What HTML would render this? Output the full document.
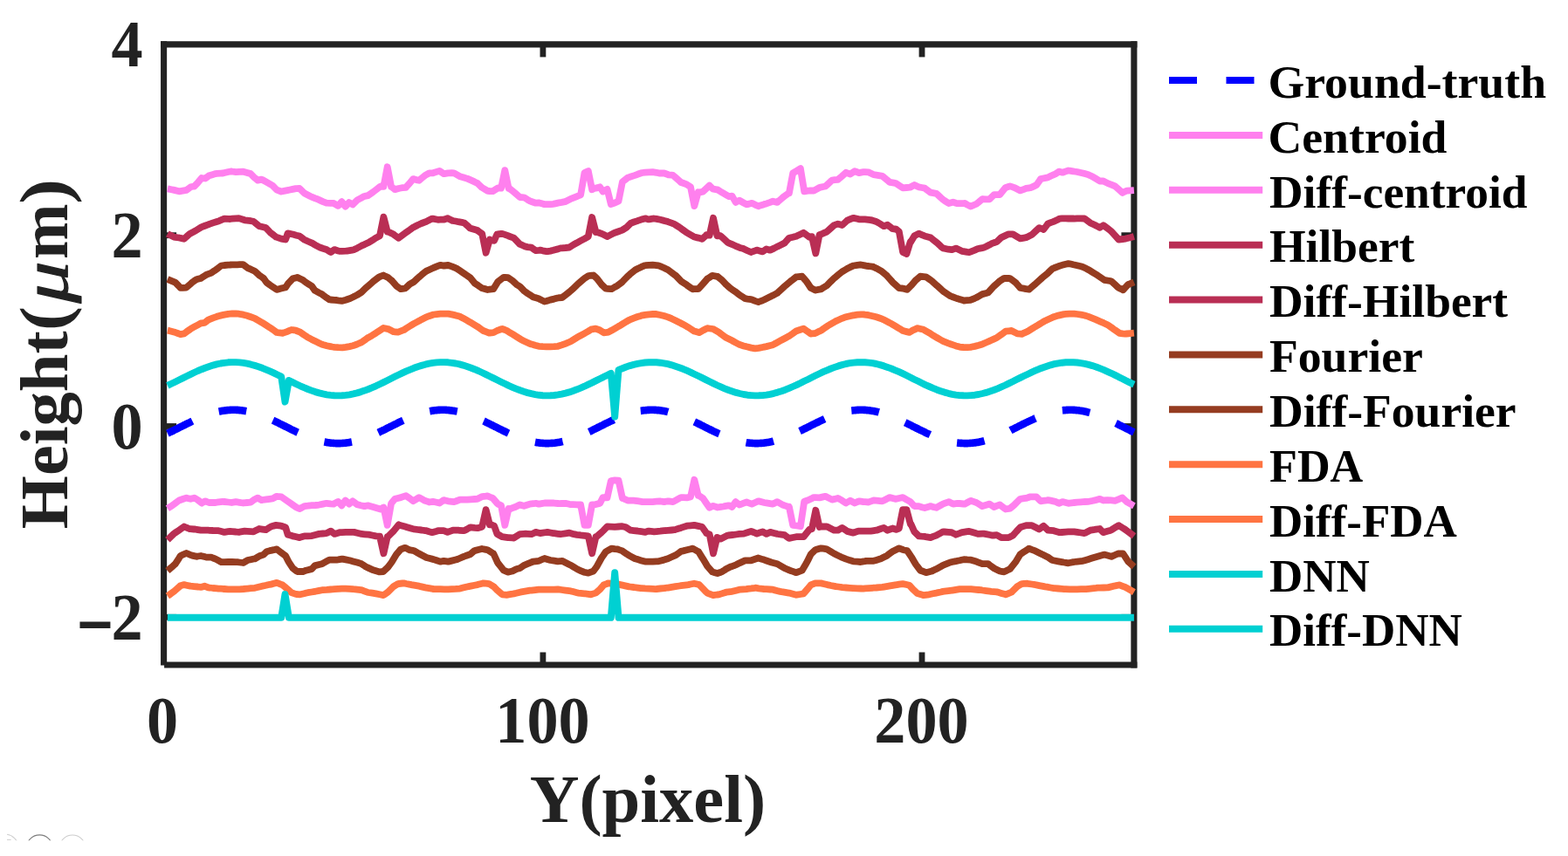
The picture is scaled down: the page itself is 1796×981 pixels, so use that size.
<!DOCTYPE html>
<html lang="en"><head><meta charset="utf-8"><title>Height profile comparison</title>
<style>html,body{margin:0;padding:0;background:#fff;}body{width:1796px;height:981px;overflow:hidden;}svg{display:block;font-family:"Liberation Serif","DejaVu Serif",serif;font-weight:bold;}</style></head><body>
<svg width="1796" height="981" viewBox="0 0 1796 981">
<rect width="1796" height="981" fill="#ffffff"/>
<defs><clipPath id="cl"><rect x="8" y="950" width="112" height="13.2"/></clipPath></defs>
<g clip-path="url(#cl)" fill="none" stroke-width="1.1"><circle cx="6" cy="971.2" r="15" stroke="#cfcfcf"/><line x1="8" y1="962.4" x2="12.6" y2="962.4" stroke="#d6d6d6"/><circle cx="45.3" cy="971.7" r="14.8" stroke="#7d7d7d"/><circle cx="83" cy="971.8" r="14.8" stroke="#cccccc"/></g>
<g stroke="#222222" stroke-width="7.1" fill="none">
<line x1="184.05" y1="50.9" x2="1302.45" y2="50.9"/>
<line x1="1298.9" y1="47.35" x2="1298.9" y2="765.55"/>
<line x1="188.10" y1="762.0" x2="1302.45" y2="762.0"/>
<line x1="187.6" y1="47.35" x2="187.6" y2="762.40"/>
</g>
<g stroke="#222222" stroke-width="6.8">
<line x1="621.9" y1="50.9" x2="621.9" y2="65.4"/>
<line x1="621.9" y1="762.0" x2="621.9" y2="747.5"/>
<line x1="1056.0" y1="50.9" x2="1056.0" y2="65.4"/>
<line x1="1056.0" y1="762.0" x2="1056.0" y2="747.5"/>
<line x1="187.6" y1="269.7" x2="202.1" y2="269.7"/>
<line x1="1298.9" y1="269.7" x2="1284.4" y2="269.7"/>
<line x1="187.6" y1="488.5" x2="202.1" y2="488.5"/>
<line x1="1298.9" y1="488.5" x2="1284.4" y2="488.5"/>
<line x1="187.6" y1="707.3" x2="202.1" y2="707.3"/>
<line x1="1298.9" y1="707.3" x2="1284.4" y2="707.3"/>
</g>
<g fill="none" stroke-linejoin="round" stroke-linecap="butt">
<path d="M191.9,496.6 L193.0,496.1 L194.1,495.6 L195.2,495.0 L196.3,494.5 L197.4,494.0 L198.5,493.5 L199.5,492.9 L200.6,492.4 L201.7,491.9 L202.8,491.3 L203.9,490.8 L205.0,490.2 L206.0,489.7 L207.1,489.2 L208.2,488.6 L209.3,488.1 L210.4,487.5 L211.5,487.0 L212.6,486.4 L213.6,485.9 L214.7,485.4 L215.8,484.8 L216.9,484.3 L218.0,483.8 L219.1,483.2 L220.2,482.7 L221.2,482.2 L222.3,481.7 L223.4,481.2 L224.5,480.7 L225.6,480.2 L226.7,479.7 L227.8,479.3 L228.8,478.8 L229.9,478.3 L231.0,477.9 L232.1,477.5 L233.2,477.0 L234.3,476.6 L235.4,476.2 L236.4,475.8 L237.5,475.4 L238.6,475.0 L239.7,474.7 L240.8,474.3 L241.9,474.0 L242.9,473.6 L244.0,473.3 L245.1,473.0 L246.2,472.7 L247.3,472.4 L248.4,472.1 L249.5,471.9 L250.5,471.6 L251.6,471.4 L252.7,471.2 L253.8,471.0 L254.9,470.8 L256.0,470.7 L257.1,470.5 L258.1,470.4 L259.2,470.2 L260.3,470.1 L261.4,470.0 L262.5,470.0 L263.6,469.9 L264.7,469.8 L265.7,469.8 L266.8,469.8 L267.9,469.8 L269.0,469.8 L270.1,469.8 L271.2,469.9 L272.2,469.9 L273.3,470.0 L274.4,470.1 L275.5,470.2 L276.6,470.3 L277.7,470.5 L278.8,470.6 L279.8,470.8 L280.9,471.0 L282.0,471.2 L283.1,471.4 L284.2,471.6 L285.3,471.8 L286.4,472.1 L287.4,472.4 L288.5,472.6 L289.6,472.9 L290.7,473.2 L291.8,473.6 L292.9,473.9 L294.0,474.2 L295.0,474.6 L296.1,474.9 L297.2,475.3 L298.3,475.7 L299.4,476.1 L300.5,476.5 L301.6,476.9 L302.6,477.4 L303.7,477.8 L304.8,478.3 L305.9,478.7 L307.0,479.2 L308.1,479.6 L309.1,480.1 L310.2,480.6 L311.3,481.1 L312.4,481.6 L313.5,482.1 L314.6,482.6 L315.7,483.1 L316.7,483.7 L317.8,484.2 L318.9,484.7 L320.0,485.3 L321.1,485.8 L322.2,486.3 L323.3,486.9 L324.3,487.4 L325.4,488.0 L326.5,488.5 L327.6,489.0 L328.7,489.6 L329.8,490.1 L330.9,490.7 L331.9,491.2 L333.0,491.8 L334.1,492.3 L335.2,492.8 L336.3,493.4 L337.4,493.9 L338.5,494.4 L339.5,494.9 L340.6,495.5 L341.7,496.0 L342.8,496.5 L343.9,497.0 L345.0,497.5 L346.0,497.9 L347.1,498.4 L348.2,498.9 L349.3,499.3 L350.4,499.8 L351.5,500.2 L352.6,500.7 L353.6,501.1 L354.7,501.5 L355.8,501.9 L356.9,502.3 L358.0,502.7 L359.1,503.1 L360.2,503.4 L361.2,503.8 L362.3,504.1 L363.4,504.5 L364.5,504.8 L365.6,505.1 L366.7,505.4 L367.8,505.6 L368.8,505.9 L369.9,506.1 L371.0,506.4 L372.1,506.6 L373.2,506.8 L374.3,507.0 L375.3,507.2 L376.4,507.3 L377.5,507.5 L378.6,507.6 L379.7,507.7 L380.8,507.8 L381.9,507.9 L382.9,508.0 L384.0,508.0 L385.1,508.1 L386.2,508.1 L387.3,508.1 L388.4,508.1 L389.5,508.1 L390.5,508.0 L391.6,508.0 L392.7,507.9 L393.8,507.8 L394.9,507.7 L396.0,507.6 L397.1,507.5 L398.1,507.3 L399.2,507.2 L400.3,507.0 L401.4,506.8 L402.5,506.6 L403.6,506.4 L404.7,506.1 L405.7,505.9 L406.8,505.6 L407.9,505.4 L409.0,505.1 L410.1,504.8 L411.2,504.5 L412.2,504.1 L413.3,503.8 L414.4,503.4 L415.5,503.1 L416.6,502.7 L417.7,502.3 L418.8,501.9 L419.8,501.5 L420.9,501.1 L422.0,500.7 L423.1,500.2 L424.2,499.8 L425.3,499.3 L426.4,498.9 L427.4,498.4 L428.5,497.9 L429.6,497.5 L430.7,497.0 L431.8,496.5 L432.9,496.0 L434.0,495.5 L435.0,494.9 L436.1,494.4 L437.2,493.9 L438.3,493.4 L439.4,492.8 L440.5,492.3 L441.5,491.8 L442.6,491.2 L443.7,490.7 L444.8,490.1 L445.9,489.6 L447.0,489.0 L448.1,488.5 L449.1,488.0 L450.2,487.4 L451.3,486.9 L452.4,486.3 L453.5,485.8 L454.6,485.3 L455.7,484.7 L456.7,484.2 L457.8,483.7 L458.9,483.1 L460.0,482.6 L461.1,482.1 L462.2,481.6 L463.3,481.1 L464.3,480.6 L465.4,480.1 L466.5,479.6 L467.6,479.2 L468.7,478.7 L469.8,478.3 L470.9,477.8 L471.9,477.4 L473.0,476.9 L474.1,476.5 L475.2,476.1 L476.3,475.7 L477.4,475.3 L478.4,474.9 L479.5,474.6 L480.6,474.2 L481.7,473.9 L482.8,473.6 L483.9,473.2 L485.0,472.9 L486.0,472.6 L487.1,472.4 L488.2,472.1 L489.3,471.8 L490.4,471.6 L491.5,471.4 L492.6,471.2 L493.6,471.0 L494.7,470.8 L495.8,470.6 L496.9,470.5 L498.0,470.3 L499.1,470.2 L500.2,470.1 L501.2,470.0 L502.3,469.9 L503.4,469.9 L504.5,469.8 L505.6,469.8 L506.7,469.8 L507.7,469.8 L508.8,469.8 L509.9,469.8 L511.0,469.9 L512.1,470.0 L513.2,470.0 L514.3,470.1 L515.3,470.2 L516.4,470.4 L517.5,470.5 L518.6,470.7 L519.7,470.8 L520.8,471.0 L521.9,471.2 L522.9,471.4 L524.0,471.6 L525.1,471.9 L526.2,472.1 L527.3,472.4 L528.4,472.7 L529.5,473.0 L530.5,473.3 L531.6,473.6 L532.7,474.0 L533.8,474.3 L534.9,474.7 L536.0,475.0 L537.1,475.4 L538.1,475.8 L539.2,476.2 L540.3,476.6 L541.4,477.0 L542.5,477.5 L543.6,477.9 L544.6,478.3 L545.7,478.8 L546.8,479.3 L547.9,479.7 L549.0,480.2 L550.1,480.7 L551.2,481.2 L552.2,481.7 L553.3,482.2 L554.4,482.7 L555.5,483.2 L556.6,483.8 L557.7,484.3 L558.8,484.8 L559.8,485.4 L560.9,485.9 L562.0,486.4 L563.1,487.0 L564.2,487.5 L565.3,488.1 L566.4,488.6 L567.4,489.2 L568.5,489.7 L569.6,490.2 L570.7,490.8 L571.8,491.3 L572.9,491.9 L574.0,492.4 L575.0,492.9 L576.1,493.5 L577.2,494.0 L578.3,494.5 L579.4,495.0 L580.5,495.6 L581.5,496.1 L582.6,496.6 L583.7,497.1 L584.8,497.6 L585.9,498.0 L587.0,498.5 L588.1,499.0 L589.1,499.4 L590.2,499.9 L591.3,500.3 L592.4,500.8 L593.5,501.2 L594.6,501.6 L595.7,502.0 L596.7,502.4 L597.8,502.8 L598.9,503.2 L600.0,503.5 L601.1,503.9 L602.2,504.2 L603.3,504.5 L604.3,504.8 L605.4,505.1 L606.5,505.4 L607.6,505.7 L608.7,505.9 L609.8,506.2 L610.8,506.4 L611.9,506.6 L613.0,506.8 L614.1,507.0 L615.2,507.2 L616.3,507.3 L617.4,507.5 L618.4,507.6 L619.5,507.7 L620.6,507.8 L621.7,507.9 L622.8,508.0 L623.9,508.0 L625.0,508.1 L626.0,508.1 L627.1,508.1 L628.2,508.1 L629.3,508.0 L630.4,508.0 L631.5,507.9 L632.6,507.9 L633.6,507.8 L634.7,507.7 L635.8,507.6 L636.9,507.4 L638.0,507.3 L639.1,507.1 L640.2,506.9 L641.2,506.7 L642.3,506.5 L643.4,506.3 L644.5,506.1 L645.6,505.8 L646.7,505.6 L647.7,505.3 L648.8,505.0 L649.9,504.7 L651.0,504.4 L652.1,504.1 L653.2,503.7 L654.3,503.4 L655.3,503.0 L656.4,502.6 L657.5,502.2 L658.6,501.8 L659.7,501.4 L660.8,501.0 L661.9,500.6 L662.9,500.2 L664.0,499.7 L665.1,499.3 L666.2,498.8 L667.3,498.3 L668.4,497.8 L669.5,497.4 L670.5,496.9 L671.6,496.4 L672.7,495.9 L673.8,495.3 L674.9,494.8 L676.0,494.3 L677.0,493.8 L678.1,493.3 L679.2,492.7 L680.3,492.2 L681.4,491.7 L682.5,491.1 L683.6,490.6 L684.6,490.0 L685.7,489.5 L686.8,488.9 L687.9,488.4 L689.0,487.8 L690.1,487.3 L691.2,486.8 L692.2,486.2 L693.3,485.7 L694.4,485.1 L695.5,484.6 L696.6,484.1 L697.7,483.6 L698.8,483.0 L699.8,482.5 L700.9,482.0 L702.0,481.5 L703.1,481.0 L704.2,480.5 L705.3,480.0 L706.4,479.6 L707.4,479.1 L708.5,478.6 L709.6,478.2 L710.7,477.7 L711.8,477.3 L712.9,476.9 L713.9,476.4 L715.0,476.0 L716.1,475.6 L717.2,475.2 L718.3,474.9 L719.4,474.5 L720.5,474.2 L721.5,473.8 L722.6,473.5 L723.7,473.2 L724.8,472.9 L725.9,472.6 L727.0,472.3 L728.1,472.0 L729.1,471.8 L730.2,471.6 L731.3,471.3 L732.4,471.1 L733.5,470.9 L734.6,470.8 L735.7,470.6 L736.7,470.4 L737.8,470.3 L738.9,470.2 L740.0,470.1 L741.1,470.0 L742.2,469.9 L743.3,469.9 L744.3,469.8 L745.4,469.8 L746.5,469.8 L747.6,469.8 L748.7,469.8 L749.8,469.9 L750.8,469.9 L751.9,470.0 L753.0,470.1 L754.1,470.1 L755.2,470.3 L756.3,470.4 L757.4,470.5 L758.4,470.7 L759.5,470.9 L760.6,471.0 L761.7,471.2 L762.8,471.5 L763.9,471.7 L765.0,471.9 L766.0,472.2 L767.1,472.5 L768.2,472.8 L769.3,473.0 L770.4,473.4 L771.5,473.7 L772.6,474.0 L773.6,474.4 L774.7,474.7 L775.8,475.1 L776.9,475.5 L778.0,475.9 L779.1,476.3 L780.1,476.7 L781.2,477.1 L782.3,477.5 L783.4,478.0 L784.5,478.4 L785.6,478.9 L786.7,479.4 L787.7,479.8 L788.8,480.3 L789.9,480.8 L791.0,481.3 L792.1,481.8 L793.2,482.3 L794.3,482.8 L795.3,483.4 L796.4,483.9 L797.5,484.4 L798.6,484.9 L799.7,485.5 L800.8,486.0 L801.9,486.5 L802.9,487.1 L804.0,487.6 L805.1,488.2 L806.2,488.7 L807.3,489.3 L808.4,489.8 L809.5,490.4 L810.5,490.9 L811.6,491.4 L812.7,492.0 L813.8,492.5 L814.9,493.0 L816.0,493.6 L817.0,494.1 L818.1,494.6 L819.2,495.1 L820.3,495.7 L821.4,496.2 L822.5,496.7 L823.6,497.2 L824.6,497.6 L825.7,498.1 L826.8,498.6 L827.9,499.1 L829.0,499.5 L830.1,500.0 L831.2,500.4 L832.2,500.8 L833.3,501.3 L834.4,501.7 L835.5,502.1 L836.6,502.5 L837.7,502.9 L838.8,503.2 L839.8,503.6 L840.9,503.9 L842.0,504.3 L843.1,504.6 L844.2,504.9 L845.3,505.2 L846.3,505.5 L847.4,505.7 L848.5,506.0 L849.6,506.2 L850.7,506.5 L851.8,506.7 L852.9,506.9 L853.9,507.0 L855.0,507.2 L856.1,507.4 L857.2,507.5 L858.3,507.6 L859.4,507.7 L860.5,507.8 L861.5,507.9 L862.6,508.0 L863.7,508.0 L864.8,508.1 L865.9,508.1 L867.0,508.1 L868.1,508.1 L869.1,508.0 L870.2,508.0 L871.3,507.9 L872.4,507.9 L873.5,507.8 L874.6,507.7 L875.7,507.5 L876.7,507.4 L877.8,507.3 L878.9,507.1 L880.0,506.9 L881.1,506.7 L882.2,506.5 L883.2,506.3 L884.3,506.0 L885.4,505.8 L886.5,505.5 L887.6,505.2 L888.7,504.9 L889.8,504.6 L890.8,504.3 L891.9,504.0 L893.0,503.7 L894.1,503.3 L895.2,502.9 L896.3,502.6 L897.4,502.2 L898.4,501.8 L899.5,501.4 L900.6,500.9 L901.7,500.5 L902.8,500.1 L903.9,499.6 L905.0,499.2 L906.0,498.7 L907.1,498.2 L908.2,497.7 L909.3,497.3 L910.4,496.8 L911.5,496.3 L912.5,495.8 L913.6,495.2 L914.7,494.7 L915.8,494.2 L916.9,493.7 L918.0,493.2 L919.1,492.6 L920.1,492.1 L921.2,491.5 L922.3,491.0 L923.4,490.5 L924.5,489.9 L925.6,489.4 L926.7,488.8 L927.7,488.3 L928.8,487.7 L929.9,487.2 L931.0,486.7 L932.1,486.1 L933.2,485.6 L934.3,485.0 L935.3,484.5 L936.4,484.0 L937.5,483.5 L938.6,482.9 L939.7,482.4 L940.8,481.9 L941.9,481.4 L942.9,480.9 L944.0,480.4 L945.1,479.9 L946.2,479.5 L947.3,479.0 L948.4,478.5 L949.4,478.1 L950.5,477.6 L951.6,477.2 L952.7,476.8 L953.8,476.4 L954.9,475.9 L956.0,475.6 L957.0,475.2 L958.1,474.8 L959.2,474.4 L960.3,474.1 L961.4,473.7 L962.5,473.4 L963.6,473.1 L964.6,472.8 L965.7,472.5 L966.8,472.2 L967.9,472.0 L969.0,471.7 L970.1,471.5 L971.2,471.3 L972.2,471.1 L973.3,470.9 L974.4,470.7 L975.5,470.6 L976.6,470.4 L977.7,470.3 L978.8,470.2 L979.8,470.1 L980.9,470.0 L982.0,469.9 L983.1,469.9 L984.2,469.8 L985.3,469.8 L986.3,469.8 L987.4,469.8 L988.5,469.8 L989.6,469.9 L990.7,469.9 L991.8,470.0 L992.9,470.1 L993.9,470.2 L995.0,470.3 L996.1,470.4 L997.2,470.6 L998.3,470.7 L999.4,470.9 L1000.5,471.1 L1001.5,471.3 L1002.6,471.5 L1003.7,471.7 L1004.8,472.0 L1005.9,472.2 L1007.0,472.5 L1008.1,472.8 L1009.1,473.1 L1010.2,473.4 L1011.3,473.7 L1012.4,474.1 L1013.5,474.4 L1014.6,474.8 L1015.6,475.2 L1016.7,475.6 L1017.8,475.9 L1018.9,476.4 L1020.0,476.8 L1021.1,477.2 L1022.2,477.6 L1023.2,478.1 L1024.3,478.5 L1025.4,479.0 L1026.5,479.5 L1027.6,479.9 L1028.7,480.4 L1029.8,480.9 L1030.8,481.4 L1031.9,481.9 L1033.0,482.4 L1034.1,482.9 L1035.2,483.5 L1036.3,484.0 L1037.4,484.5 L1038.4,485.0 L1039.5,485.6 L1040.6,486.1 L1041.7,486.7 L1042.8,487.2 L1043.9,487.7 L1045.0,488.3 L1046.0,488.8 L1047.1,489.4 L1048.2,489.9 L1049.3,490.5 L1050.4,491.0 L1051.5,491.5 L1052.5,492.1 L1053.6,492.6 L1054.7,493.2 L1055.8,493.7 L1056.9,494.2 L1058.0,494.7 L1059.1,495.2 L1060.1,495.8 L1061.2,496.3 L1062.3,496.8 L1063.4,497.3 L1064.5,497.7 L1065.6,498.2 L1066.7,498.7 L1067.7,499.2 L1068.8,499.6 L1069.9,500.1 L1071.0,500.5 L1072.1,500.9 L1073.2,501.4 L1074.3,501.8 L1075.3,502.2 L1076.4,502.6 L1077.5,502.9 L1078.6,503.3 L1079.7,503.7 L1080.8,504.0 L1081.8,504.3 L1082.9,504.6 L1084.0,504.9 L1085.1,505.2 L1086.2,505.5 L1087.3,505.8 L1088.4,506.0 L1089.4,506.3 L1090.5,506.5 L1091.6,506.7 L1092.7,506.9 L1093.8,507.1 L1094.9,507.3 L1096.0,507.4 L1097.0,507.5 L1098.1,507.7 L1099.2,507.8 L1100.3,507.9 L1101.4,507.9 L1102.5,508.0 L1103.6,508.0 L1104.6,508.1 L1105.7,508.1 L1106.8,508.1 L1107.9,508.1 L1109.0,508.0 L1110.1,508.0 L1111.2,507.9 L1112.2,507.8 L1113.3,507.7 L1114.4,507.6 L1115.5,507.5 L1116.6,507.4 L1117.7,507.2 L1118.7,507.0 L1119.8,506.9 L1120.9,506.7 L1122.0,506.5 L1123.1,506.2 L1124.2,506.0 L1125.3,505.7 L1126.3,505.5 L1127.4,505.2 L1128.5,504.9 L1129.6,504.6 L1130.7,504.3 L1131.8,503.9 L1132.9,503.6 L1133.9,503.2 L1135.0,502.9 L1136.1,502.5 L1137.2,502.1 L1138.3,501.7 L1139.4,501.3 L1140.5,500.8 L1141.5,500.4 L1142.6,500.0 L1143.7,499.5 L1144.8,499.1 L1145.9,498.6 L1147.0,498.1 L1148.0,497.6 L1149.1,497.2 L1150.2,496.7 L1151.3,496.2 L1152.4,495.7 L1153.5,495.1 L1154.6,494.6 L1155.6,494.1 L1156.7,493.6 L1157.8,493.0 L1158.9,492.5 L1160.0,492.0 L1161.1,491.4 L1162.2,490.9 L1163.2,490.4 L1164.3,489.8 L1165.4,489.3 L1166.5,488.7 L1167.6,488.2 L1168.7,487.6 L1169.8,487.1 L1170.8,486.5 L1171.9,486.0 L1173.0,485.5 L1174.1,484.9 L1175.2,484.4 L1176.3,483.9 L1177.4,483.4 L1178.4,482.8 L1179.5,482.3 L1180.6,481.8 L1181.7,481.3 L1182.8,480.8 L1183.9,480.3 L1184.9,479.8 L1186.0,479.4 L1187.1,478.9 L1188.2,478.4 L1189.3,478.0 L1190.4,477.5 L1191.5,477.1 L1192.5,476.7 L1193.6,476.3 L1194.7,475.9 L1195.8,475.5 L1196.9,475.1 L1198.0,474.7 L1199.1,474.4 L1200.1,474.0 L1201.2,473.7 L1202.3,473.4 L1203.4,473.0 L1204.5,472.8 L1205.6,472.5 L1206.7,472.2 L1207.7,471.9 L1208.8,471.7 L1209.9,471.5 L1211.0,471.2 L1212.1,471.0 L1213.2,470.9 L1214.3,470.7 L1215.3,470.5 L1216.4,470.4 L1217.5,470.3 L1218.6,470.1 L1219.7,470.1 L1220.8,470.0 L1221.8,469.9 L1222.9,469.9 L1224.0,469.8 L1225.1,469.8 L1226.2,469.8 L1227.3,469.8 L1228.4,469.8 L1229.4,469.9 L1230.5,469.9 L1231.6,470.0 L1232.7,470.1 L1233.8,470.2 L1234.9,470.3 L1236.0,470.4 L1237.0,470.6 L1238.1,470.8 L1239.2,470.9 L1240.3,471.1 L1241.4,471.3 L1242.5,471.6 L1243.6,471.8 L1244.6,472.0 L1245.7,472.3 L1246.8,472.6 L1247.9,472.9 L1249.0,473.2 L1250.1,473.5 L1251.1,473.8 L1252.2,474.2 L1253.3,474.5 L1254.4,474.9 L1255.5,475.2 L1256.6,475.6 L1257.7,476.0 L1258.7,476.4 L1259.8,476.9 L1260.9,477.3 L1262.0,477.7 L1263.1,478.2 L1264.2,478.6 L1265.3,479.1 L1266.3,479.6 L1267.4,480.0 L1268.5,480.5 L1269.6,481.0 L1270.7,481.5 L1271.8,482.0 L1272.9,482.5 L1273.9,483.0 L1275.0,483.6 L1276.1,484.1 L1277.2,484.6 L1278.3,485.1 L1279.4,485.7 L1280.5,486.2 L1281.5,486.8 L1282.6,487.3 L1283.7,487.8 L1284.8,488.4 L1285.9,488.9 L1287.0,489.5 L1288.0,490.0 L1289.1,490.6 L1290.2,491.1 L1291.3,491.7 L1292.4,492.2 L1293.5,492.7 L1294.6,493.3 L1295.6,493.8 L1296.7,494.3 L1297.8,494.8 L1298.9,495.3" stroke="#0000ff" stroke-width="8.6" stroke-dasharray="31.8 32.25"/>
<path d="M191.9,216.3 L193.4,216.6 L196.3,217.2 L198.4,217.6 L200.6,218.1 L205.0,219.2 L205.1,219.3 L209.3,218.6 L213.4,217.9 L213.6,217.8 L218.0,214.6 L218.4,214.3 L222.3,213.5 L222.6,213.5 L226.7,209.2 L226.8,209.1 L231.0,204.0 L231.0,204.0 L235.2,204.5 L235.4,204.3 L239.3,201.3 L239.7,201.2 L244.0,199.9 L246.9,199.1 L248.4,198.9 L252.7,198.6 L255.2,198.5 L257.1,198.0 L261.4,197.0 L265.2,196.4 L265.7,196.5 L270.1,197.2 L270.3,197.2 L274.4,196.8 L278.6,196.7 L278.8,196.7 L283.1,197.9 L287.0,199.1 L287.4,199.6 L291.1,203.3 L291.8,203.8 L295.3,206.6 L296.1,206.4 L299.5,205.6 L300.5,206.0 L304.8,208.4 L309.1,210.8 L312.0,212.5 L313.5,214.0 L317.0,217.6 L317.8,217.9 L322.1,219.5 L322.2,219.5 L326.5,218.6 L330.4,217.9 L330.9,217.8 L335.2,216.9 L338.8,216.1 L339.5,216.1 L343.0,215.9 L343.9,216.8 L348.2,221.0 L348.8,221.5 L352.6,223.5 L355.5,225.0 L356.9,225.6 L361.2,227.4 L363.8,228.3 L365.6,229.1 L369.9,231.1 L373.9,232.6 L374.3,232.7 L378.6,232.8 L382.2,232.8 L382.9,233.3 L387.2,235.8 L387.3,235.8 L391.4,231.2 L391.6,231.5 L395.6,236.7 L396.0,236.3 L399.8,232.0 L400.3,232.3 L404.0,234.5 L404.7,233.8 L409.0,229.5 L409.0,229.4 L413.3,227.1 L417.3,224.8 L417.7,224.8 L421.5,224.1 L422.0,223.7 L426.4,220.7 L427.4,220.0 L430.7,217.5 L435.0,214.2 L435.7,213.7 L439.4,213.8 L443.7,191.3 L448.1,214.1 L448.2,214.1 L452.4,217.0 L452.4,217.1 L456.7,216.0 L459.1,215.5 L461.1,215.2 L465.0,214.8 L465.4,214.2 L469.1,210.1 L469.8,209.3 L473.3,205.1 L474.1,205.2 L478.4,206.4 L480.0,206.8 L482.8,204.4 L486.7,201.2 L487.1,200.9 L491.5,198.5 L491.7,198.4 L495.8,198.3 L495.9,198.3 L500.2,196.9 L503.4,195.9 L504.5,196.6 L508.4,199.2 L508.8,199.1 L513.2,198.3 L513.4,198.3 L517.5,198.2 L520.1,198.3 L521.9,199.3 L526.2,201.8 L526.8,202.2 L530.5,203.2 L534.9,204.6 L535.2,204.6 L539.2,206.4 L543.6,208.4 L546.9,210.0 L547.9,211.0 L551.9,214.8 L552.2,215.0 L556.6,217.6 L558.6,218.8 L560.9,219.0 L564.4,219.2 L565.3,218.6 L569.6,215.9 L570.3,215.5 L574.0,215.7 L578.3,195.1 L582.6,216.0 L583.6,216.1 L587.0,218.8 L590.3,221.5 L591.3,222.4 L595.3,225.9 L595.7,226.0 L600.0,226.3 L600.3,226.3 L604.3,228.8 L607.0,230.4 L608.7,231.0 L613.0,232.5 L613.7,232.7 L617.0,232.3 L617.4,232.4 L621.7,233.6 L623.7,234.1 L626.0,234.1 L630.4,234.1 L633.8,233.8 L634.7,233.6 L639.1,232.6 L640.4,232.3 L643.4,231.9 L647.1,231.2 L647.7,230.9 L652.1,228.8 L653.8,227.9 L656.4,226.9 L660.8,225.1 L662.2,224.5 L665.1,223.3 L669.5,198.0 L673.8,196.0 L678.1,217.3 L680.6,216.1 L682.5,215.6 L686.8,214.6 L687.2,214.4 L690.6,219.5 L691.2,219.2 L695.5,216.8 L699.8,234.0 L704.2,232.6 L708.5,230.5 L712.9,208.4 L713.1,208.3 L717.2,205.1 L719.0,203.7 L721.5,202.8 L725.9,201.4 L727.4,200.9 L730.2,199.8 L734.6,198.3 L735.7,198.0 L738.9,197.6 L743.3,197.3 L747.4,197.2 L747.6,197.2 L751.9,197.8 L755.8,198.6 L756.3,198.5 L760.6,198.5 L760.8,198.5 L765.0,200.0 L765.8,200.4 L769.3,200.7 L770.8,200.9 L773.6,203.3 L778.0,207.2 L780.0,209.0 L782.3,209.8 L786.7,211.4 L786.7,211.5 L791.0,214.3 L795.3,236.1 L799.7,220.3 L800.1,220.6 L804.0,219.9 L805.1,219.7 L808.4,216.6 L812.6,212.6 L812.7,212.7 L816.8,216.7 L817.0,216.7 L821.4,217.3 L821.8,217.4 L825.7,219.8 L828.5,221.4 L830.1,222.3 L834.4,224.8 L835.2,225.2 L838.5,224.7 L838.8,225.1 L842.7,231.9 L843.1,231.6 L846.9,229.6 L847.4,230.0 L851.8,232.5 L855.2,234.3 L856.1,234.1 L860.5,233.0 L861.1,232.8 L864.8,234.6 L868.6,236.3 L869.1,236.1 L873.5,234.8 L875.3,234.1 L877.8,233.4 L882.2,231.9 L885.3,230.7 L886.5,231.0 L890.3,231.9 L890.8,231.4 L895.2,227.6 L897.0,226.0 L899.5,224.2 L903.7,221.2 L903.9,221.2 L908.2,198.4 L912.5,195.8 L916.9,193.1 L921.2,219.4 L925.6,218.7 L927.1,218.5 L929.9,218.5 L932.1,218.5 L934.3,217.3 L938.6,215.0 L938.8,214.9 L942.9,214.0 L945.5,213.5 L947.3,211.8 L951.6,207.8 L953.0,206.6 L956.0,206.2 L959.7,205.9 L960.3,205.3 L963.8,202.4 L964.6,201.7 L968.9,197.8 L969.0,197.9 L973.3,199.3 L973.9,199.5 L977.7,197.0 L978.9,196.2 L982.0,197.3 L983.9,198.1 L986.3,197.6 L988.9,197.2 L990.7,197.2 L994.8,197.3 L995.0,197.4 L999.4,199.5 L1000.6,200.2 L1003.7,200.6 L1008.1,201.3 L1010.6,201.8 L1012.4,203.2 L1016.7,206.8 L1019.0,208.8 L1021.1,209.1 L1025.4,209.8 L1025.7,209.8 L1029.8,212.5 L1034.0,215.3 L1034.1,215.3 L1038.4,215.0 L1042.4,214.7 L1042.8,214.5 L1047.1,212.1 L1047.4,211.9 L1051.5,213.9 L1052.4,214.4 L1055.8,215.0 L1059.1,215.6 L1060.1,216.4 L1064.5,219.7 L1065.8,220.7 L1068.8,221.2 L1072.5,221.8 L1073.2,222.4 L1077.5,226.4 L1080.0,228.6 L1081.8,229.9 L1086.2,232.7 L1086.7,233.0 L1090.5,232.0 L1091.7,231.6 L1094.9,232.7 L1096.7,233.2 L1099.2,233.2 L1103.6,233.1 L1105.1,233.0 L1107.9,234.6 L1111.8,236.6 L1112.2,236.4 L1116.6,234.5 L1118.4,233.7 L1120.9,231.7 L1125.1,228.1 L1125.3,228.2 L1129.6,228.3 L1133.5,228.3 L1133.9,227.8 L1138.3,223.4 L1138.5,223.1 L1142.6,223.1 L1145.2,223.0 L1147.0,220.8 L1151.3,215.6 L1151.9,214.9 L1155.6,213.8 L1156.9,213.4 L1160.0,214.4 L1161.9,215.1 L1164.3,216.3 L1168.6,218.4 L1168.7,218.4 L1173.0,216.8 L1175.3,215.9 L1177.4,215.6 L1180.3,215.2 L1181.7,214.6 L1186.0,212.6 L1187.0,212.2 L1190.4,207.4 L1192.0,205.1 L1194.7,204.5 L1199.1,203.6 L1200.3,203.4 L1203.4,201.8 L1207.7,199.9 L1208.7,199.5 L1212.1,197.2 L1212.9,196.6 L1216.4,197.5 L1217.0,197.7 L1220.8,196.4 L1223.7,195.5 L1225.1,195.7 L1229.4,196.3 L1230.4,196.5 L1233.8,197.0 L1238.1,198.0 L1240.4,198.5 L1242.5,199.1 L1246.8,200.3 L1247.1,200.4 L1251.1,202.3 L1252.1,202.9 L1255.5,204.9 L1259.7,207.5 L1259.8,207.5 L1263.8,207.5 L1264.2,207.7 L1268.5,209.9 L1268.9,210.1 L1272.9,211.6 L1277.2,213.4 L1277.2,213.4 L1281.5,217.2 L1285.6,220.9 L1285.9,220.7 L1290.2,218.8 L1290.6,218.7 L1294.6,218.4 L1298.9,218.1" stroke="#ff80ee" stroke-width="7.8"/>
<path d="M191.9,582.8 L193.4,581.8 L196.3,579.9 L198.4,578.5 L200.6,576.8 L205.0,573.5 L205.1,573.5 L209.3,572.0 L213.4,570.6 L213.6,570.7 L218.0,571.7 L218.4,571.8 L222.3,570.7 L222.6,570.6 L226.7,573.0 L226.8,573.1 L231.0,576.5 L231.0,576.4 L235.2,574.3 L235.4,574.4 L239.3,576.0 L239.7,576.0 L244.0,576.0 L246.9,576.0 L248.4,575.7 L252.7,575.1 L255.2,574.8 L257.1,575.0 L261.4,575.5 L265.2,576.0 L265.7,575.9 L270.1,575.2 L270.3,575.1 L274.4,575.8 L278.6,576.5 L278.8,576.4 L283.1,576.0 L287.0,575.6 L287.4,575.3 L291.1,572.6 L291.8,572.3 L295.3,570.6 L296.1,571.1 L299.5,573.1 L300.5,573.0 L304.8,572.4 L309.1,571.8 L312.0,571.4 L313.5,570.7 L317.0,568.8 L317.8,568.9 L322.1,569.3 L322.2,569.4 L326.5,572.4 L330.4,575.1 L330.9,575.4 L335.2,578.5 L338.8,581.0 L339.5,581.4 L343.0,583.1 L343.9,582.7 L348.2,580.4 L348.8,580.1 L352.6,579.7 L355.5,579.3 L356.9,579.2 L361.2,579.0 L363.8,578.8 L365.6,578.5 L369.9,577.6 L373.9,576.8 L374.3,576.8 L378.6,577.3 L382.2,577.6 L382.9,577.2 L387.2,574.8 L387.3,574.8 L391.4,579.3 L391.6,579.0 L395.6,573.5 L396.0,573.8 L399.8,577.6 L400.3,577.2 L404.0,574.3 L404.7,574.8 L409.0,578.1 L409.0,578.1 L413.3,579.2 L417.3,580.1 L417.7,580.1 L421.5,579.3 L422.0,579.4 L426.4,580.7 L427.4,581.0 L430.7,582.0 L435.0,583.3 L435.7,583.5 L439.4,581.5 L443.7,601.9 L448.1,576.9 L448.2,576.8 L452.4,571.8 L452.4,571.8 L456.7,570.7 L459.1,570.1 L461.1,569.4 L465.0,568.1 L465.4,568.4 L469.1,570.9 L469.8,571.5 L473.3,574.3 L474.1,573.8 L478.4,571.1 L480.0,570.1 L482.8,571.6 L486.7,573.8 L487.1,573.9 L491.5,575.4 L491.7,575.5 L495.8,574.8 L495.9,574.8 L500.2,575.7 L503.4,576.5 L504.5,575.7 L508.4,573.1 L508.8,573.2 L513.2,574.2 L513.4,574.3 L517.5,574.8 L520.1,575.1 L521.9,574.5 L526.2,572.8 L526.8,572.6 L530.5,572.6 L534.9,572.6 L535.2,572.6 L539.2,572.3 L543.6,572.0 L546.9,571.8 L547.9,571.3 L551.9,569.3 L552.2,569.2 L556.6,568.7 L558.6,568.4 L560.9,569.5 L564.4,570.9 L565.3,571.9 L569.6,576.9 L570.3,577.6 L574.0,579.3 L578.3,601.9 L582.6,583.0 L583.6,583.5 L587.0,582.2 L590.3,581.0 L591.3,580.5 L595.3,578.5 L595.7,578.6 L600.0,579.7 L600.3,579.8 L604.3,578.5 L607.0,577.6 L608.7,577.4 L613.0,576.9 L613.7,576.8 L617.0,577.6 L617.4,577.6 L621.7,576.8 L623.7,576.5 L626.0,576.5 L630.4,576.5 L633.8,576.5 L634.7,576.6 L639.1,577.0 L640.4,577.1 L643.4,577.0 L647.1,576.8 L647.7,576.9 L652.1,577.8 L653.8,578.1 L656.4,578.2 L660.8,578.4 L662.2,578.5 L665.1,578.5 L669.5,601.9 L673.8,601.9 L678.1,578.5 L680.6,578.5 L682.5,578.0 L686.8,576.9 L687.2,576.8 L690.6,570.1 L691.2,570.1 L695.5,570.3 L699.8,551.0 L704.2,550.4 L708.5,550.6 L712.9,570.9 L713.1,570.9 L717.2,572.7 L719.0,573.5 L721.5,573.6 L725.9,573.7 L727.4,573.8 L730.2,574.2 L734.6,574.9 L735.7,575.1 L738.9,575.1 L743.3,575.1 L747.4,575.1 L747.6,575.1 L751.9,574.7 L755.8,574.3 L756.3,574.4 L760.6,575.1 L760.8,575.1 L765.0,574.4 L765.8,574.3 L769.3,574.9 L770.8,575.1 L773.6,573.6 L778.0,571.2 L780.0,570.1 L782.3,570.2 L786.7,570.4 L786.7,570.4 L791.0,569.5 L795.3,549.8 L799.7,567.7 L800.1,567.6 L804.0,570.3 L805.1,570.9 L808.4,575.7 L812.6,581.8 L812.7,581.8 L816.8,579.8 L817.0,579.9 L821.4,581.3 L821.8,581.5 L825.7,580.9 L828.5,580.5 L830.1,580.2 L834.4,579.4 L835.2,579.3 L838.5,581.0 L838.8,580.6 L842.7,575.1 L843.1,575.5 L846.9,578.5 L847.4,578.3 L851.8,576.7 L855.2,575.5 L856.1,575.8 L860.5,577.4 L861.1,577.6 L864.8,576.0 L868.6,574.3 L869.1,574.4 L873.5,575.5 L875.3,576.0 L877.8,576.4 L882.2,577.1 L885.3,577.6 L886.5,577.0 L890.3,575.1 L890.8,575.4 L895.2,577.8 L897.0,578.8 L899.5,579.6 L903.7,581.0 L903.9,580.9 L908.2,601.9 L912.5,602.5 L916.9,603.1 L921.2,574.7 L925.6,573.2 L927.1,572.6 L929.9,571.2 L932.1,570.1 L934.3,570.2 L938.6,570.4 L938.8,570.4 L942.9,569.4 L945.5,568.8 L947.3,569.7 L951.6,571.9 L953.0,572.6 L956.0,571.9 L959.7,570.9 L960.3,571.3 L963.8,573.1 L964.6,573.7 L968.9,576.5 L969.0,576.4 L973.3,574.1 L973.9,573.8 L977.7,575.8 L978.9,576.5 L982.0,575.1 L983.9,574.3 L986.3,574.7 L988.9,575.1 L990.7,575.2 L994.8,575.5 L995.0,575.4 L999.4,573.9 L1000.6,573.5 L1003.7,573.7 L1008.1,574.1 L1010.6,574.3 L1012.4,573.4 L1016.7,571.2 L1019.0,570.1 L1021.1,570.6 L1025.4,571.7 L1025.7,571.8 L1029.8,571.0 L1034.0,570.1 L1034.1,570.1 L1038.4,572.6 L1042.4,574.8 L1042.8,575.2 L1047.1,579.8 L1047.4,580.1 L1051.5,580.1 L1052.4,580.1 L1055.8,581.2 L1059.1,582.1 L1060.1,581.8 L1064.5,580.5 L1065.8,580.1 L1068.8,580.9 L1072.5,581.8 L1073.2,581.4 L1077.5,579.0 L1080.0,577.6 L1081.8,576.9 L1086.2,575.3 L1086.7,575.1 L1090.5,577.0 L1091.7,577.6 L1094.9,577.1 L1096.7,576.8 L1099.2,577.0 L1103.6,577.5 L1105.1,577.6 L1107.9,576.0 L1111.8,573.8 L1112.2,573.9 L1116.6,575.4 L1118.4,576.0 L1120.9,577.5 L1125.1,580.1 L1125.3,580.1 L1129.6,578.8 L1133.5,577.6 L1133.9,577.9 L1138.3,580.8 L1138.5,581.0 L1142.6,579.4 L1145.2,578.5 L1147.0,579.8 L1151.3,583.1 L1151.9,583.5 L1155.6,582.9 L1156.9,582.6 L1160.0,580.1 L1161.9,578.5 L1164.3,576.0 L1168.6,571.8 L1168.7,571.8 L1173.0,571.2 L1175.3,570.9 L1177.4,570.3 L1180.3,569.3 L1181.7,569.3 L1186.0,569.3 L1187.0,569.3 L1190.4,572.7 L1192.0,574.3 L1194.7,573.9 L1199.1,573.3 L1200.3,573.1 L1203.4,573.7 L1207.7,574.6 L1208.7,574.8 L1212.1,576.4 L1212.9,576.8 L1216.4,575.4 L1217.0,575.1 L1220.8,576.1 L1223.7,576.8 L1225.1,576.6 L1229.4,576.1 L1230.4,576.0 L1233.8,575.7 L1238.1,575.3 L1240.4,575.1 L1242.5,575.0 L1246.8,574.8 L1247.1,574.8 L1251.1,574.0 L1252.1,573.8 L1255.5,572.9 L1259.7,571.8 L1259.8,571.8 L1263.8,573.5 L1264.2,573.4 L1268.5,573.1 L1268.9,573.1 L1272.9,573.4 L1277.2,573.8 L1277.2,573.8 L1281.5,572.1 L1285.6,570.4 L1285.9,570.7 L1290.2,574.8 L1290.6,575.1 L1294.6,577.4 L1298.9,579.8" stroke="#ff80ee" stroke-width="7.8"/>
<path d="M191.9,267.9 L193.4,268.7 L196.3,270.1 L199.2,271.6 L200.6,271.8 L205.0,272.5 L205.1,272.5 L209.3,273.4 L210.9,273.8 L213.6,271.2 L216.8,268.4 L218.0,267.7 L222.3,265.3 L223.5,264.7 L226.7,262.7 L230.1,260.6 L231.0,260.2 L235.4,258.5 L238.5,257.4 L239.7,256.9 L244.0,255.4 L248.4,254.0 L250.2,253.5 L252.7,252.4 L256.9,250.7 L257.1,250.7 L261.4,250.9 L263.6,251.0 L265.7,250.7 L270.1,250.3 L273.6,250.2 L274.4,250.4 L278.8,251.8 L280.3,252.3 L283.1,252.6 L287.4,253.2 L290.3,253.8 L291.8,254.9 L296.1,258.5 L297.0,259.2 L300.5,260.0 L304.5,261.0 L304.8,261.3 L309.1,265.9 L310.4,267.2 L313.5,269.5 L316.2,271.6 L317.8,272.1 L322.1,273.6 L322.2,273.6 L326.5,274.4 L327.1,274.5 L329.6,267.4 L330.9,267.6 L335.2,268.5 L335.4,268.6 L339.5,269.7 L343.0,270.5 L343.9,271.2 L348.2,274.4 L348.8,274.8 L352.6,276.5 L356.9,278.3 L357.2,278.4 L361.2,280.8 L365.5,283.2 L365.6,283.2 L369.9,284.7 L373.9,285.9 L374.3,286.2 L378.6,288.9 L378.9,289.1 L382.9,286.2 L383.1,286.1 L387.3,287.4 L388.9,287.9 L391.6,287.9 L396.0,287.7 L397.3,287.6 L400.3,287.1 L404.7,286.3 L405.6,286.1 L409.0,284.4 L413.3,282.1 L414.0,281.7 L417.7,280.1 L422.0,278.0 L422.3,277.9 L426.4,275.4 L430.7,272.6 L430.7,272.6 L435.0,270.3 L439.4,248.6 L443.7,265.5 L444.1,265.3 L448.1,267.3 L450.8,268.6 L452.4,269.8 L456.6,272.8 L456.7,272.7 L461.1,269.4 L464.1,267.2 L465.4,266.2 L469.8,263.1 L472.5,261.1 L474.1,260.3 L478.4,258.0 L480.0,257.3 L482.8,256.0 L487.1,254.3 L488.4,253.9 L491.5,252.3 L495.0,250.6 L495.8,250.7 L500.2,251.5 L501.7,251.8 L504.5,251.7 L508.4,251.6 L508.8,251.5 L512.6,250.1 L513.2,250.4 L517.5,252.5 L518.4,253.0 L521.9,253.5 L525.1,254.2 L526.2,254.4 L530.5,255.2 L531.8,255.5 L534.9,258.2 L538.5,261.6 L539.2,261.8 L543.6,263.1 L546.9,264.1 L547.9,264.9 L552.2,268.0 L556.6,289.7 L560.9,274.6 L561.9,275.4 L565.3,275.7 L566.1,275.8 L569.4,268.3 L569.6,268.3 L574.0,268.0 L575.3,267.9 L578.3,268.9 L581.9,270.2 L582.6,270.5 L587.0,272.1 L588.6,272.7 L591.3,275.5 L595.3,279.7 L595.7,279.9 L600.0,281.8 L602.0,282.6 L604.3,283.1 L608.7,283.7 L608.7,283.8 L613.0,286.7 L613.7,287.1 L617.4,286.8 L618.7,286.6 L621.7,287.3 L626.0,288.1 L627.1,288.2 L630.4,287.6 L633.8,286.8 L634.7,286.5 L639.1,285.4 L642.1,284.4 L643.4,284.3 L647.7,284.0 L652.1,283.5 L652.1,283.5 L656.4,280.7 L657.2,280.2 L660.8,278.3 L663.8,276.6 L665.1,275.9 L669.5,273.6 L673.8,271.1 L678.1,249.0 L682.5,266.0 L683.1,265.6 L686.8,267.0 L688.9,267.7 L691.2,268.8 L695.5,271.0 L695.6,271.1 L699.8,268.9 L704.0,266.8 L704.2,266.7 L708.5,265.2 L712.3,263.9 L712.9,263.6 L717.2,260.9 L717.3,260.9 L721.5,256.7 L722.3,255.9 L725.9,254.5 L730.2,253.1 L730.7,252.9 L734.6,251.6 L738.9,250.4 L739.1,250.3 L742.4,251.4 L743.3,251.3 L747.6,250.6 L749.1,250.5 L751.9,250.9 L756.3,251.8 L760.6,252.9 L760.8,252.9 L765.0,254.1 L769.3,255.6 L772.5,256.8 L773.6,257.6 L778.0,260.4 L780.0,261.8 L782.3,263.5 L786.7,266.7 L786.7,266.7 L791.0,269.1 L795.0,271.4 L795.3,271.5 L799.7,272.6 L804.0,273.8 L804.2,273.9 L808.4,270.1 L809.2,269.2 L812.7,269.6 L817.0,249.8 L821.4,270.3 L821.8,270.3 L825.1,270.2 L825.7,270.7 L830.1,274.7 L833.5,277.8 L834.4,278.3 L838.8,280.2 L841.8,281.5 L843.1,282.1 L846.9,283.7 L847.4,283.9 L851.8,285.1 L851.9,285.2 L856.1,287.2 L860.2,289.0 L860.5,288.9 L864.8,287.4 L866.9,286.6 L869.1,287.2 L873.5,288.4 L873.6,288.4 L877.8,285.4 L877.8,285.4 L881.9,286.7 L882.2,286.6 L886.5,284.6 L890.3,282.6 L890.8,282.4 L895.2,280.3 L898.7,278.5 L899.5,277.5 L903.7,272.8 L903.9,272.8 L908.2,271.8 L912.0,270.8 L912.5,270.6 L916.9,268.5 L920.4,266.8 L921.2,267.4 L925.6,270.7 L927.1,271.8 L929.9,271.1 L934.3,290.4 L938.6,269.0 L940.4,268.6 L942.9,267.4 L947.1,265.6 L947.3,265.4 L951.6,261.5 L955.5,258.0 L956.0,257.9 L959.7,256.6 L960.3,256.8 L964.6,258.0 L964.7,258.0 L969.0,254.0 L970.5,252.6 L973.3,251.4 L977.2,249.8 L977.7,249.9 L982.0,250.8 L983.9,251.3 L986.3,251.3 L990.7,251.4 L995.0,251.8 L997.3,252.1 L999.4,252.6 L1003.7,254.0 L1004.0,254.1 L1008.1,256.5 L1012.3,259.2 L1012.4,259.2 L1016.5,257.8 L1016.7,258.0 L1021.1,261.2 L1022.3,262.2 L1025.4,262.5 L1026.5,262.6 L1029.8,265.4 L1034.1,288.9 L1038.4,291.0 L1042.8,276.9 L1043.2,277.3 L1047.1,270.7 L1047.4,270.2 L1051.5,268.1 L1052.4,267.7 L1055.8,269.1 L1059.1,270.4 L1060.1,270.7 L1064.5,271.9 L1065.8,272.3 L1068.8,274.7 L1072.5,277.6 L1073.2,278.2 L1077.5,282.2 L1080.0,284.4 L1081.8,284.8 L1086.2,285.7 L1090.0,286.2 L1090.5,286.1 L1094.9,284.6 L1095.0,284.6 L1099.2,286.6 L1101.7,287.8 L1103.6,288.1 L1107.9,288.9 L1110.1,289.1 L1112.2,288.3 L1116.6,286.6 L1120.1,285.0 L1120.9,284.9 L1125.3,284.1 L1126.8,283.8 L1129.6,282.5 L1133.9,280.3 L1136.8,278.7 L1138.3,278.3 L1141.8,277.1 L1142.6,276.3 L1146.9,272.1 L1147.0,272.1 L1151.3,270.1 L1155.2,268.3 L1155.6,268.3 L1160.0,268.3 L1160.2,268.3 L1164.3,270.8 L1168.6,273.3 L1168.7,273.3 L1173.0,272.6 L1175.3,272.2 L1177.4,271.2 L1181.7,269.1 L1181.9,269.0 L1186.0,265.1 L1190.3,261.1 L1190.4,261.1 L1194.7,262.7 L1195.3,263.0 L1199.1,258.0 L1200.3,256.3 L1203.4,255.1 L1207.0,253.9 L1207.7,253.5 L1212.1,251.4 L1213.7,250.6 L1216.4,250.4 L1220.8,250.4 L1223.7,250.5 L1225.1,250.5 L1229.4,250.5 L1230.4,250.6 L1233.8,250.4 L1238.1,250.3 L1242.1,250.5 L1242.5,250.7 L1246.8,253.9 L1248.8,255.4 L1251.1,256.5 L1253.8,257.8 L1255.5,258.6 L1259.7,260.8 L1259.8,260.7 L1263.8,258.3 L1264.2,258.5 L1268.5,261.7 L1272.2,264.5 L1272.9,265.2 L1277.2,269.9 L1281.4,274.5 L1281.5,274.5 L1285.9,274.0 L1288.9,273.6 L1290.2,273.3 L1294.6,272.2 L1298.9,271.0" stroke="#b92e54" stroke-width="7.8"/>
<path d="M191.9,618.7 L193.4,617.2 L196.3,614.4 L199.2,611.6 L200.6,610.6 L205.0,607.8 L205.1,607.7 L209.3,604.7 L210.9,603.5 L213.6,604.7 L216.8,606.0 L218.0,606.1 L222.3,606.5 L223.5,606.5 L226.7,607.1 L230.1,607.7 L231.0,607.7 L235.4,607.7 L238.5,607.7 L239.7,607.8 L244.0,608.0 L248.4,608.1 L250.2,608.2 L252.7,608.8 L256.9,609.9 L257.1,609.9 L261.4,609.2 L263.6,608.9 L265.7,609.1 L270.1,609.5 L273.6,609.9 L274.4,609.7 L278.8,608.9 L280.3,608.6 L283.1,608.8 L287.4,609.1 L290.3,609.4 L291.8,608.6 L296.1,606.5 L297.0,606.0 L300.5,606.6 L304.5,607.2 L304.8,607.0 L309.1,604.3 L310.4,603.5 L313.5,602.6 L316.2,601.9 L317.8,602.1 L322.1,602.7 L322.2,602.7 L326.5,604.2 L327.1,604.4 L329.6,612.7 L330.9,613.1 L335.2,614.3 L335.4,614.4 L339.5,615.3 L343.0,616.1 L343.9,615.8 L348.2,614.6 L348.8,614.4 L352.6,614.3 L356.9,614.1 L357.2,614.1 L361.2,613.0 L365.5,611.9 L365.6,611.9 L369.9,611.5 L373.9,611.1 L374.3,610.9 L378.6,608.7 L378.9,608.6 L382.9,611.8 L383.1,611.9 L387.3,610.7 L388.9,610.2 L391.6,610.1 L396.0,609.9 L397.3,609.9 L400.3,609.9 L404.7,609.9 L405.6,609.9 L409.0,610.7 L413.3,611.7 L414.0,611.9 L417.7,612.3 L422.0,612.7 L422.3,612.7 L426.4,613.5 L430.7,614.4 L430.7,614.4 L435.0,614.7 L439.4,634.3 L443.7,615.2 L444.1,615.2 L448.1,611.2 L450.8,608.6 L452.4,606.6 L456.6,601.5 L456.7,601.6 L461.1,602.7 L464.1,603.5 L465.4,603.9 L469.8,605.2 L472.5,606.0 L474.1,606.3 L478.4,607.0 L480.0,607.2 L482.8,607.5 L487.1,608.1 L488.4,608.2 L491.5,609.2 L495.0,610.2 L495.8,610.0 L500.2,608.7 L501.7,608.2 L504.5,608.2 L508.4,608.2 L508.8,608.4 L512.6,609.9 L513.2,609.7 L517.5,608.1 L518.4,607.7 L521.9,607.7 L525.1,607.7 L526.2,607.8 L530.5,608.1 L531.8,608.2 L534.9,606.5 L538.5,604.4 L539.2,604.4 L543.6,604.9 L546.9,605.2 L547.9,604.9 L552.2,603.7 L556.6,584.1 L560.9,601.3 L561.9,601.0 L565.3,602.4 L566.1,602.7 L569.4,611.9 L569.6,612.0 L574.0,614.5 L575.3,615.2 L578.3,615.6 L581.9,616.1 L582.6,616.1 L587.0,616.4 L588.6,616.6 L591.3,614.8 L595.3,612.2 L595.7,612.2 L600.0,611.8 L602.0,611.6 L604.3,611.8 L608.7,612.2 L608.7,612.2 L613.0,610.2 L613.7,609.9 L617.4,610.7 L618.7,611.1 L621.7,610.6 L626.0,610.0 L627.1,609.9 L630.4,610.5 L633.8,611.1 L634.7,611.2 L639.1,611.8 L642.1,612.2 L643.4,612.0 L647.7,611.3 L652.1,610.6 L652.1,610.6 L656.4,612.0 L657.2,612.2 L660.8,612.8 L663.8,613.2 L665.1,613.4 L669.5,613.8 L673.8,614.3 L678.1,634.3 L682.5,615.2 L683.1,615.2 L686.8,612.0 L688.9,610.2 L691.2,608.0 L695.5,603.6 L695.6,603.5 L699.8,603.7 L704.0,603.9 L704.2,603.9 L708.5,603.5 L712.3,603.2 L712.9,603.3 L717.2,604.3 L717.3,604.4 L721.5,607.2 L722.3,607.7 L725.9,608.1 L730.2,608.5 L730.7,608.6 L734.6,609.2 L738.9,609.9 L739.1,609.9 L742.4,608.6 L743.3,608.7 L747.6,609.2 L749.1,609.4 L751.9,609.1 L756.3,608.7 L760.6,608.2 L760.8,608.2 L765.0,607.9 L769.3,607.5 L772.5,607.2 L773.6,606.9 L778.0,605.5 L780.0,604.9 L782.3,604.1 L786.7,602.7 L786.7,602.7 L791.0,602.3 L795.0,601.9 L795.3,601.9 L799.7,602.9 L804.0,603.8 L804.2,603.9 L808.4,609.8 L809.2,611.1 L812.7,612.4 L817.0,634.3 L821.4,615.9 L821.8,616.1 L825.1,617.7 L825.7,617.4 L830.1,615.3 L833.5,613.6 L834.4,613.5 L838.8,613.0 L841.8,612.7 L843.1,612.5 L846.9,611.9 L847.4,611.9 L851.8,611.6 L851.9,611.6 L856.1,610.2 L860.2,608.9 L860.5,609.0 L864.8,610.7 L866.9,611.6 L869.1,610.8 L873.5,609.4 L873.6,609.4 L877.8,611.9 L877.8,611.9 L881.9,609.9 L882.2,609.9 L886.5,611.0 L890.3,611.9 L890.8,612.0 L895.2,612.7 L898.7,613.2 L899.5,613.9 L903.7,616.9 L903.9,616.9 L908.2,616.0 L912.0,615.2 L912.5,615.2 L916.9,615.2 L920.4,615.2 L921.2,614.2 L925.6,608.8 L927.1,606.9 L929.9,606.2 L934.3,584.7 L938.6,604.0 L940.4,603.5 L942.9,603.5 L947.1,603.5 L947.3,603.6 L951.6,605.8 L955.5,607.7 L956.0,607.7 L959.7,607.7 L960.3,607.4 L964.6,604.9 L964.7,604.9 L969.0,607.8 L970.5,608.9 L973.3,609.6 L977.2,610.6 L977.7,610.4 L982.0,609.1 L983.9,608.6 L986.3,608.6 L990.7,608.6 L995.0,608.6 L997.3,608.6 L999.4,608.3 L1003.7,607.7 L1004.0,607.7 L1008.1,606.3 L1012.3,604.9 L1012.4,604.9 L1016.5,607.7 L1016.7,607.6 L1021.1,606.0 L1022.3,605.5 L1025.4,606.5 L1026.5,606.9 L1029.8,605.6 L1034.1,584.1 L1038.4,584.1 L1042.8,600.4 L1043.2,600.2 L1047.1,608.8 L1047.4,609.4 L1051.5,613.4 L1052.4,614.4 L1055.8,614.7 L1059.1,614.9 L1060.1,615.1 L1064.5,615.8 L1065.8,616.1 L1068.8,614.9 L1072.5,613.6 L1073.2,613.2 L1077.5,610.8 L1080.0,609.4 L1081.8,609.5 L1086.2,609.9 L1090.0,610.2 L1090.5,610.5 L1094.9,612.6 L1095.0,612.7 L1099.2,611.2 L1101.7,610.2 L1103.6,609.9 L1107.9,609.2 L1110.1,608.9 L1112.2,609.5 L1116.6,610.8 L1120.1,611.9 L1120.9,611.9 L1125.3,611.6 L1126.8,611.6 L1129.6,612.1 L1133.9,613.0 L1136.8,613.6 L1138.3,613.5 L1141.8,613.2 L1142.6,613.7 L1146.9,616.1 L1147.0,616.1 L1151.3,616.1 L1155.2,616.1 L1155.6,615.9 L1160.0,613.7 L1160.2,613.6 L1164.3,609.0 L1168.6,604.4 L1168.7,604.3 L1173.0,602.9 L1175.3,602.2 L1177.4,602.2 L1181.7,602.2 L1181.9,602.2 L1186.0,604.3 L1190.3,606.5 L1190.4,606.5 L1194.7,603.2 L1195.3,602.7 L1199.1,606.4 L1200.3,607.7 L1203.4,607.9 L1207.0,608.2 L1207.7,608.4 L1212.1,609.7 L1213.7,610.2 L1216.4,610.0 L1220.8,609.6 L1223.7,609.4 L1225.1,609.4 L1229.4,609.4 L1230.4,609.4 L1233.8,609.9 L1238.1,610.5 L1242.1,611.1 L1242.5,610.9 L1246.8,608.7 L1248.8,607.7 L1251.1,607.3 L1253.8,606.9 L1255.5,606.6 L1259.7,606.0 L1259.8,606.2 L1263.8,610.2 L1264.2,610.1 L1268.5,608.8 L1272.2,607.7 L1272.9,607.3 L1277.2,604.7 L1281.4,602.2 L1281.5,602.3 L1285.9,605.0 L1288.9,606.9 L1290.2,607.9 L1294.6,611.1 L1298.9,614.4" stroke="#b92e54" stroke-width="7.8"/>
<path d="M191.9,320.0 L193.4,320.6 L196.3,321.8 L200.6,323.6 L200.9,323.7 L205.0,328.0 L206.7,329.9 L209.3,329.8 L213.4,329.6 L213.6,329.4 L218.0,325.6 L220.1,323.7 L222.3,322.1 L225.1,320.2 L226.7,319.8 L230.1,318.9 L231.0,318.3 L235.4,315.5 L236.8,314.6 L239.7,313.6 L241.8,312.9 L244.0,311.3 L246.9,309.4 L248.4,308.3 L252.7,305.0 L253.5,304.5 L257.1,304.0 L261.4,303.6 L263.6,303.5 L265.7,303.3 L270.1,303.3 L271.9,303.3 L274.4,303.2 L278.6,303.2 L278.8,303.3 L283.1,306.6 L283.6,307.1 L287.4,308.7 L291.8,310.8 L292.0,310.9 L296.1,314.7 L297.0,315.5 L300.5,317.9 L302.0,319.1 L304.8,323.0 L305.3,323.8 L309.1,326.5 L310.4,327.5 L313.5,329.5 L317.0,331.9 L317.8,331.7 L322.1,330.5 L322.2,330.5 L326.5,329.5 L327.1,329.4 L330.4,324.4 L330.9,323.9 L335.2,319.6 L335.4,319.3 L339.5,318.2 L340.4,317.9 L343.9,319.5 L347.1,321.0 L348.2,321.9 L350.5,323.7 L352.6,325.1 L356.9,327.8 L357.2,328.0 L360.5,332.8 L361.2,333.2 L365.6,335.6 L368.9,337.3 L369.9,338.1 L374.3,341.3 L377.2,343.3 L378.6,343.5 L382.9,343.9 L385.6,344.0 L387.3,344.3 L391.6,344.8 L392.3,344.8 L396.0,343.8 L400.3,342.3 L400.6,342.2 L404.7,340.3 L409.0,338.1 L409.0,338.1 L413.3,335.4 L414.0,335.0 L417.7,331.3 L419.0,329.9 L422.0,327.4 L426.4,323.6 L427.4,322.7 L430.7,320.2 L434.0,317.6 L435.0,317.2 L439.1,315.5 L439.4,315.7 L443.7,317.6 L444.1,317.7 L448.1,321.1 L449.1,321.9 L452.4,325.8 L454.1,327.8 L456.7,329.6 L459.1,331.2 L461.1,330.9 L464.1,330.5 L465.4,329.3 L469.1,325.8 L469.8,325.4 L474.1,323.0 L474.2,322.9 L478.4,318.9 L480.0,317.5 L482.8,315.1 L487.1,311.6 L488.4,310.6 L491.5,309.2 L495.8,307.3 L496.7,306.9 L500.2,305.4 L504.2,303.8 L504.5,303.8 L508.4,304.6 L508.8,304.5 L513.2,304.0 L513.4,304.0 L517.5,305.4 L521.9,307.2 L523.5,307.9 L526.2,309.7 L530.5,312.7 L533.5,314.8 L534.9,315.7 L538.5,318.2 L539.2,319.1 L543.5,324.3 L543.6,324.4 L547.9,327.3 L551.9,330.2 L552.2,330.3 L556.6,331.4 L558.6,332.0 L560.9,331.7 L565.2,331.2 L565.3,331.1 L569.6,323.9 L570.3,322.8 L574.0,320.0 L576.9,317.8 L578.3,317.9 L581.9,318.1 L582.6,318.6 L587.0,321.6 L587.0,321.6 L591.3,325.6 L592.0,326.2 L595.3,328.3 L595.7,328.6 L600.0,333.0 L600.3,333.4 L604.3,336.2 L608.7,339.1 L610.4,340.2 L613.0,341.1 L617.0,342.2 L617.4,342.4 L621.7,344.6 L623.7,345.6 L626.0,345.0 L630.4,343.6 L630.4,343.6 L634.7,342.6 L638.8,341.4 L639.1,341.4 L643.4,341.0 L643.8,341.0 L647.7,338.1 L652.1,334.7 L653.8,333.2 L656.4,330.8 L660.8,326.6 L662.2,325.2 L665.1,322.7 L668.9,319.5 L669.5,319.1 L673.8,316.2 L673.9,316.2 L678.1,315.7 L679.7,315.5 L682.5,318.0 L683.9,319.3 L686.8,323.2 L688.9,326.0 L691.2,328.1 L693.9,330.7 L695.5,330.8 L699.8,331.1 L700.6,331.1 L704.2,329.0 L707.3,327.3 L708.5,326.3 L712.3,323.5 L712.9,322.9 L717.2,318.4 L719.0,316.6 L721.5,314.3 L725.9,310.7 L727.4,309.5 L730.2,308.0 L734.6,305.9 L738.9,304.1 L739.1,304.1 L743.3,303.8 L747.4,303.7 L747.6,303.7 L751.9,304.1 L754.1,304.4 L756.3,305.2 L760.6,307.0 L764.1,308.7 L765.0,309.2 L769.3,312.3 L773.6,315.6 L774.2,316.0 L778.0,320.0 L780.0,322.2 L782.3,323.7 L786.7,326.6 L786.7,326.7 L791.0,329.7 L793.4,331.4 L795.3,331.2 L799.7,331.0 L800.1,330.9 L804.0,326.6 L805.1,325.4 L808.4,321.6 L810.1,319.6 L812.7,317.9 L815.9,315.8 L817.0,316.0 L821.4,316.8 L821.8,316.9 L825.7,320.0 L826.8,320.8 L830.1,324.4 L831.8,326.2 L834.4,328.5 L836.8,330.6 L838.8,331.9 L841.8,333.9 L843.1,334.9 L846.9,337.8 L847.4,338.2 L851.8,341.1 L853.5,342.2 L856.1,342.6 L860.2,343.1 L860.5,343.2 L864.8,344.9 L868.6,346.1 L869.1,345.9 L873.5,344.3 L875.3,343.5 L877.8,342.3 L882.2,340.1 L883.6,339.3 L886.5,337.9 L890.3,335.9 L890.8,335.4 L895.2,331.4 L898.7,328.1 L899.5,327.4 L903.9,323.8 L905.3,322.5 L908.2,320.4 L912.0,317.4 L912.5,317.3 L916.9,316.9 L918.7,316.7 L921.2,319.6 L923.7,322.5 L925.6,325.3 L928.7,330.0 L929.9,330.6 L933.8,332.6 L934.3,332.5 L938.6,331.7 L940.4,331.4 L942.9,329.8 L947.1,327.2 L947.3,327.0 L951.6,322.6 L955.5,318.8 L956.0,318.4 L960.3,314.8 L963.8,312.0 L964.6,311.4 L969.0,308.7 L970.5,307.8 L973.3,306.4 L977.2,304.6 L977.7,304.5 L982.0,303.8 L985.6,303.4 L986.3,303.5 L990.7,304.4 L992.3,304.8 L995.0,305.0 L999.4,305.6 L1000.6,305.9 L1003.7,307.4 L1008.1,309.8 L1009.0,310.3 L1012.4,313.1 L1015.7,315.8 L1016.7,317.0 L1021.1,321.9 L1022.3,323.3 L1025.4,326.1 L1029.8,330.1 L1029.9,330.2 L1034.0,330.5 L1034.1,330.5 L1038.4,331.6 L1039.1,331.8 L1042.8,328.1 L1044.1,326.8 L1047.1,323.2 L1049.1,320.9 L1051.5,318.9 L1054.1,316.7 L1055.8,316.9 L1060.1,317.4 L1060.8,317.4 L1064.5,320.0 L1067.5,322.1 L1068.8,323.3 L1073.2,327.3 L1074.2,328.1 L1077.5,331.2 L1080.0,333.5 L1081.8,334.8 L1086.2,337.7 L1088.4,339.1 L1090.5,340.0 L1094.9,341.6 L1096.7,342.2 L1099.2,343.1 L1103.6,344.3 L1104.2,344.5 L1107.9,344.2 L1111.8,343.8 L1112.2,343.6 L1116.6,341.8 L1118.4,341.0 L1120.9,339.6 L1125.1,337.2 L1125.3,337.1 L1129.6,336.0 L1131.8,335.3 L1133.9,333.0 L1138.3,328.2 L1138.5,328.0 L1142.6,324.3 L1145.2,322.0 L1147.0,320.9 L1150.2,318.9 L1151.3,318.9 L1155.6,319.0 L1156.9,319.1 L1160.0,321.4 L1163.6,324.1 L1164.3,325.0 L1168.6,329.9 L1168.7,330.0 L1173.0,330.7 L1173.6,330.8 L1177.4,331.5 L1178.6,331.7 L1181.7,329.1 L1185.3,326.1 L1186.0,325.4 L1190.4,321.4 L1193.6,318.5 L1194.7,317.6 L1199.1,313.9 L1200.3,312.9 L1203.4,309.9 L1205.3,308.1 L1207.7,307.0 L1212.0,305.3 L1212.1,305.3 L1216.4,303.9 L1218.7,303.2 L1220.8,302.7 L1223.7,302.1 L1225.1,302.3 L1229.4,303.3 L1230.4,303.5 L1233.8,304.2 L1238.1,305.2 L1240.4,305.9 L1242.5,306.9 L1246.8,309.2 L1248.8,310.4 L1251.1,311.8 L1255.5,314.5 L1257.2,315.6 L1259.8,317.4 L1264.2,320.4 L1264.7,320.8 L1268.5,321.5 L1272.9,322.3 L1273.0,322.4 L1277.2,326.2 L1280.6,329.4 L1281.5,329.9 L1285.9,332.0 L1286.4,332.3 L1290.2,328.2 L1292.3,326.0 L1294.6,325.2 L1298.9,323.4" stroke="#953c20" stroke-width="7.8"/>
<path d="M191.9,654.1 L193.4,652.8 L196.3,650.3 L200.6,646.4 L200.9,646.2 L205.0,639.8 L206.7,637.0 L209.3,635.8 L213.4,634.0 L213.6,634.0 L218.0,635.8 L220.1,636.6 L222.3,637.1 L225.1,637.8 L226.7,637.5 L230.1,637.0 L231.0,637.2 L235.4,638.3 L236.8,638.6 L239.7,638.6 L241.8,638.6 L244.0,639.5 L246.9,640.6 L248.4,641.4 L252.7,643.7 L253.5,644.2 L257.1,644.1 L261.4,644.0 L263.6,644.0 L265.7,644.0 L270.1,644.1 L271.9,644.2 L274.4,644.5 L278.6,645.0 L278.8,644.9 L283.1,642.3 L283.6,642.0 L287.4,641.2 L291.8,640.3 L292.0,640.3 L296.1,637.8 L297.0,637.3 L300.5,636.1 L302.0,635.6 L304.8,632.8 L305.3,632.3 L309.1,631.1 L310.4,630.8 L313.5,630.2 L317.0,629.4 L317.8,630.0 L322.1,633.3 L322.2,633.4 L326.5,636.6 L327.1,637.0 L330.4,643.6 L330.9,644.3 L335.2,650.8 L335.4,651.2 L339.5,654.3 L340.4,655.0 L343.9,655.0 L347.1,655.0 L348.2,654.6 L350.5,653.7 L352.6,653.2 L356.9,652.1 L357.2,652.0 L360.5,648.3 L361.2,648.1 L365.6,647.0 L368.9,646.2 L369.9,645.6 L374.3,643.2 L377.2,641.6 L378.6,641.6 L382.9,641.6 L385.6,641.6 L387.3,641.4 L391.6,640.7 L392.3,640.6 L396.0,641.4 L400.3,642.3 L400.6,642.3 L404.7,643.4 L409.0,644.5 L409.0,644.5 L413.3,645.9 L414.0,646.2 L417.7,648.6 L419.0,649.5 L422.0,650.9 L426.4,652.9 L427.4,653.3 L430.7,654.3 L434.0,655.3 L435.0,655.3 L439.1,655.0 L439.4,654.7 L443.7,650.7 L444.1,650.3 L448.1,645.0 L449.1,643.6 L452.4,638.1 L454.1,635.3 L456.7,632.2 L459.1,629.4 L461.1,628.8 L464.1,627.8 L465.4,628.4 L469.1,630.3 L469.8,630.4 L474.1,631.1 L474.2,631.1 L478.4,633.6 L480.0,634.5 L482.8,636.0 L487.1,638.3 L488.4,639.0 L491.5,639.8 L495.8,640.9 L496.7,641.1 L500.2,642.3 L504.2,643.6 L504.5,643.6 L508.4,642.8 L508.8,642.9 L513.2,643.6 L513.4,643.6 L517.5,642.6 L521.9,641.5 L523.5,641.1 L526.2,640.0 L530.5,638.2 L533.5,637.0 L534.9,636.5 L538.5,635.3 L539.2,634.7 L543.5,631.1 L543.6,631.1 L547.9,630.0 L551.9,628.9 L552.2,629.0 L556.6,629.9 L558.6,630.3 L560.9,631.8 L565.2,634.5 L565.3,634.5 L569.6,643.9 L570.3,645.3 L574.0,649.9 L576.9,653.7 L578.3,654.2 L581.9,655.7 L582.6,655.5 L587.0,654.5 L587.0,654.5 L591.3,652.3 L592.0,652.0 L595.3,651.2 L595.7,650.9 L600.0,648.1 L600.3,647.8 L604.3,646.2 L608.7,644.4 L610.4,643.6 L613.0,643.3 L617.0,642.8 L617.4,642.7 L621.7,640.8 L623.7,640.0 L626.0,640.7 L630.4,642.0 L630.4,642.0 L634.7,642.7 L638.8,643.3 L639.1,643.3 L643.4,642.9 L643.8,642.8 L647.7,644.8 L652.1,647.0 L653.8,647.8 L656.4,649.4 L660.8,652.0 L662.2,652.8 L665.1,654.1 L668.9,655.7 L669.5,655.8 L673.8,656.7 L673.9,656.7 L678.1,655.1 L679.7,654.5 L682.5,650.7 L683.9,648.7 L686.8,643.3 L688.9,639.5 L691.2,636.3 L693.9,632.3 L695.5,631.4 L699.8,629.0 L700.6,628.6 L704.2,629.1 L707.3,629.4 L708.5,629.9 L712.3,631.1 L712.9,631.5 L717.2,634.4 L719.0,635.6 L721.5,637.1 L725.9,639.5 L727.4,640.3 L730.2,641.1 L734.6,642.4 L738.9,643.6 L739.1,643.6 L743.3,643.6 L747.4,643.6 L747.6,643.6 L751.9,643.4 L754.1,643.3 L756.3,642.7 L760.6,641.6 L764.1,640.6 L765.0,640.3 L769.3,638.3 L773.6,636.4 L774.2,636.1 L778.0,633.4 L780.0,631.9 L782.3,631.4 L786.7,630.3 L786.7,630.3 L791.0,629.2 L793.4,628.6 L795.3,629.7 L799.7,632.1 L800.1,632.3 L804.0,638.6 L805.1,640.3 L808.4,645.8 L810.1,648.7 L812.7,651.7 L815.9,655.3 L817.0,655.7 L821.4,656.9 L821.8,657.0 L825.7,655.7 L826.8,655.3 L830.1,653.2 L831.8,652.0 L834.4,650.7 L836.8,649.5 L838.8,648.9 L841.8,647.8 L843.1,647.2 L846.9,645.3 L847.4,645.1 L851.8,643.1 L853.5,642.3 L856.1,642.3 L860.2,642.3 L860.5,642.2 L864.8,640.8 L868.6,639.5 L869.1,639.7 L873.5,641.1 L875.3,641.6 L877.8,642.5 L882.2,644.0 L883.6,644.5 L886.5,645.2 L890.3,646.2 L890.8,646.5 L895.2,649.1 L898.7,651.2 L899.5,651.5 L903.9,653.4 L905.3,654.0 L908.2,654.9 L912.0,656.2 L912.5,656.0 L916.9,654.4 L918.7,653.7 L921.2,649.5 L923.7,645.3 L925.6,641.6 L928.7,635.3 L929.9,634.1 L933.8,630.3 L934.3,630.1 L938.6,628.8 L940.4,628.3 L942.9,628.7 L947.1,629.4 L947.3,629.5 L951.6,632.1 L955.5,634.5 L956.0,634.7 L960.3,636.9 L963.8,638.6 L964.6,638.9 L969.0,640.6 L970.5,641.1 L973.3,642.1 L977.2,643.3 L977.7,643.4 L982.0,643.7 L985.6,644.0 L986.3,643.8 L990.7,643.1 L992.3,642.8 L995.0,642.8 L999.4,642.8 L1000.6,642.8 L1003.7,641.9 L1008.1,640.6 L1009.0,640.3 L1012.4,638.6 L1015.7,637.0 L1016.7,636.2 L1021.1,632.9 L1022.3,631.9 L1025.4,630.4 L1029.8,628.3 L1029.9,628.3 L1034.0,629.9 L1034.1,630.0 L1038.4,631.0 L1039.1,631.1 L1042.8,636.7 L1044.1,638.6 L1047.1,643.7 L1049.1,647.0 L1051.5,650.2 L1054.1,653.7 L1055.8,654.3 L1060.1,655.9 L1060.8,656.2 L1064.5,655.3 L1067.5,654.5 L1068.8,653.8 L1073.2,651.7 L1074.2,651.2 L1077.5,649.3 L1080.0,647.8 L1081.8,647.1 L1086.2,645.4 L1088.4,644.5 L1090.5,644.0 L1094.9,643.2 L1096.7,642.8 L1099.2,642.3 L1103.6,641.3 L1104.2,641.1 L1107.9,641.4 L1111.8,641.6 L1112.2,641.8 L1116.6,643.1 L1118.4,643.6 L1120.9,644.6 L1125.1,646.2 L1125.3,646.2 L1129.6,646.2 L1131.8,646.2 L1133.9,647.8 L1138.3,651.0 L1138.5,651.2 L1142.6,653.2 L1145.2,654.5 L1147.0,654.8 L1150.2,655.3 L1151.3,654.8 L1155.6,652.6 L1156.9,652.0 L1160.0,648.1 L1163.6,643.6 L1164.3,642.4 L1168.6,635.3 L1168.7,635.2 L1173.0,632.3 L1173.6,631.9 L1177.4,629.4 L1178.6,628.6 L1181.7,629.8 L1185.3,631.1 L1186.0,631.5 L1190.4,633.7 L1193.6,635.3 L1194.7,635.8 L1199.1,638.0 L1200.3,638.6 L1203.4,640.7 L1205.3,642.0 L1207.7,642.5 L1212.0,643.3 L1212.1,643.3 L1216.4,644.1 L1218.7,644.5 L1220.8,644.8 L1223.7,645.3 L1225.1,645.0 L1229.4,644.2 L1230.4,644.0 L1233.8,643.6 L1238.1,643.1 L1240.4,642.8 L1242.5,642.2 L1246.8,640.9 L1248.8,640.3 L1251.1,639.6 L1255.5,638.3 L1257.2,637.8 L1259.8,637.0 L1264.2,635.8 L1264.7,635.6 L1268.5,636.6 L1272.9,637.8 L1273.0,637.8 L1277.2,636.0 L1280.6,634.5 L1281.5,634.5 L1285.9,634.5 L1286.4,634.5 L1290.2,640.4 L1292.3,643.6 L1294.6,645.7 L1298.9,649.5" stroke="#953c20" stroke-width="7.8"/>
<path d="M191.9,378.6 L193.4,378.9 L196.3,379.7 L200.1,380.7 L200.6,380.9 L205.0,382.5 L206.7,383.2 L209.3,382.6 L210.9,382.3 L213.6,380.3 L218.0,377.2 L218.4,376.9 L222.3,374.7 L226.7,372.3 L230.1,370.4 L231.0,370.3 L234.3,369.9 L235.4,369.1 L238.5,366.7 L239.7,366.2 L244.0,364.4 L248.4,362.8 L250.2,362.2 L252.7,361.6 L257.1,360.6 L261.4,359.8 L263.6,359.6 L265.7,359.5 L270.1,359.5 L273.6,359.7 L274.4,359.9 L278.8,360.7 L283.1,361.8 L283.6,362.0 L287.4,363.3 L291.8,364.9 L292.0,365.0 L296.1,367.3 L300.3,369.8 L300.5,369.9 L304.8,372.6 L309.1,375.4 L310.4,376.2 L313.5,378.4 L317.0,381.0 L317.8,381.1 L322.2,381.6 L323.7,381.8 L326.5,380.9 L328.7,380.1 L330.9,379.2 L333.8,378.0 L335.2,378.2 L338.8,378.7 L339.5,379.0 L343.8,380.7 L343.9,380.8 L348.2,383.8 L352.1,386.3 L352.6,386.6 L356.9,388.9 L360.5,390.7 L361.2,391.1 L365.6,393.2 L368.9,394.7 L369.9,395.0 L374.3,396.2 L378.6,397.1 L380.6,397.5 L382.9,397.8 L387.3,398.2 L391.6,398.4 L392.3,398.4 L396.0,397.9 L400.3,397.1 L404.0,396.3 L404.7,396.1 L409.0,394.5 L413.3,392.7 L414.0,392.4 L417.7,389.8 L420.7,387.5 L422.0,386.8 L426.4,384.3 L430.7,381.6 L430.7,381.6 L435.0,378.7 L439.1,376.0 L439.4,376.0 L443.7,376.8 L444.1,376.8 L448.1,378.8 L450.8,380.2 L452.4,380.3 L455.8,380.7 L456.7,380.3 L461.1,378.7 L462.5,378.2 L465.4,376.2 L469.8,373.5 L470.8,372.9 L474.1,370.9 L478.4,368.6 L480.0,367.8 L482.8,366.2 L487.1,364.0 L488.4,363.4 L491.5,362.2 L495.8,360.8 L496.7,360.5 L500.2,360.1 L504.5,359.7 L508.8,359.6 L513.2,359.7 L513.4,359.7 L517.5,360.4 L521.9,361.4 L526.2,362.6 L526.8,362.8 L530.5,364.7 L534.9,367.2 L536.8,368.3 L539.2,369.7 L543.6,372.3 L546.9,374.3 L547.9,375.0 L552.2,378.1 L553.5,379.0 L556.6,380.2 L560.2,381.6 L560.9,381.5 L565.2,381.1 L565.3,381.1 L569.6,378.9 L570.3,378.6 L574.0,377.3 L575.3,376.9 L578.3,378.0 L580.3,378.8 L582.6,380.3 L587.0,382.9 L588.6,383.9 L591.3,385.6 L595.7,388.4 L597.0,389.2 L600.0,390.7 L604.3,392.7 L607.0,393.9 L608.7,394.4 L613.0,395.8 L617.0,396.8 L617.4,396.8 L621.7,397.2 L626.0,397.4 L630.4,397.3 L630.4,397.3 L634.7,397.2 L638.8,396.8 L639.1,396.8 L643.4,395.4 L647.7,393.8 L652.1,392.0 L653.8,391.2 L656.4,389.6 L660.8,386.9 L662.2,386.0 L665.1,384.5 L669.5,382.1 L670.5,381.5 L673.8,379.6 L677.2,377.5 L678.1,377.4 L682.2,376.7 L682.5,376.8 L686.8,378.3 L687.2,378.4 L691.2,381.1 L691.4,381.3 L695.5,380.9 L696.4,380.9 L699.8,379.0 L702.3,377.7 L704.2,376.6 L708.5,374.0 L710.6,372.8 L712.9,371.4 L717.2,368.7 L720.7,366.8 L721.5,366.4 L725.9,364.6 L730.2,363.0 L734.0,361.9 L734.6,361.7 L738.9,360.9 L743.3,360.3 L747.6,360.0 L750.8,359.9 L751.9,360.1 L756.3,361.0 L760.6,362.0 L764.1,363.1 L765.0,363.4 L769.3,365.2 L773.6,367.2 L778.0,369.4 L780.0,370.5 L782.3,371.7 L786.7,374.2 L788.4,375.1 L791.0,376.9 L795.0,379.6 L795.3,379.6 L799.7,380.8 L800.9,381.1 L804.0,379.3 L805.1,378.7 L808.4,377.0 L810.1,376.2 L812.7,376.5 L816.8,377.0 L817.0,377.1 L821.4,379.7 L823.5,380.9 L825.7,382.6 L830.1,385.8 L831.8,387.0 L834.4,388.3 L838.5,390.3 L838.8,390.5 L843.1,392.9 L846.9,394.9 L847.4,395.1 L851.8,396.4 L855.2,397.3 L856.1,397.5 L860.5,398.6 L864.8,399.4 L865.2,399.4 L869.1,398.9 L873.5,398.0 L875.3,397.6 L877.8,397.1 L882.2,396.0 L885.3,395.2 L886.5,394.5 L890.8,392.2 L893.6,390.6 L895.2,389.8 L899.5,387.5 L903.7,385.2 L903.9,385.1 L908.2,382.1 L912.0,379.3 L912.5,379.2 L916.9,377.8 L920.4,376.6 L921.2,377.2 L924.6,379.6 L925.6,380.3 L928.7,382.5 L929.9,382.4 L933.8,382.0 L934.3,381.7 L938.6,379.6 L940.4,378.8 L942.9,377.0 L947.3,374.0 L948.8,373.0 L951.6,371.3 L956.0,368.8 L957.2,368.1 L960.3,366.7 L964.6,364.8 L967.2,363.8 L969.0,363.3 L973.3,362.2 L977.2,361.4 L977.7,361.3 L982.0,360.7 L986.3,360.4 L988.9,360.3 L990.7,360.6 L995.0,361.2 L999.4,362.2 L1000.6,362.5 L1003.7,363.3 L1008.1,364.8 L1010.6,365.7 L1012.4,366.6 L1016.7,368.8 L1020.7,370.9 L1021.1,371.1 L1025.4,373.7 L1027.4,374.9 L1029.8,376.3 L1034.0,378.9 L1034.1,379.0 L1038.4,380.1 L1041.6,380.9 L1042.8,380.2 L1045.7,378.4 L1047.1,377.8 L1050.8,376.2 L1051.5,376.3 L1055.8,377.2 L1057.4,377.5 L1060.1,379.1 L1064.1,381.4 L1064.5,381.6 L1068.8,384.4 L1072.5,386.6 L1073.2,387.0 L1077.5,389.5 L1080.0,390.9 L1081.8,391.7 L1086.2,393.4 L1090.0,394.7 L1090.5,394.9 L1094.9,396.4 L1099.2,397.6 L1100.1,397.8 L1103.6,398.0 L1107.9,398.1 L1111.8,397.9 L1112.2,397.8 L1116.6,396.9 L1120.9,395.8 L1123.5,395.0 L1125.3,394.3 L1129.6,392.5 L1133.9,390.6 L1135.2,390.0 L1138.3,388.6 L1141.8,387.0 L1142.6,386.4 L1147.0,383.3 L1151.3,380.1 L1151.9,379.7 L1155.6,379.3 L1158.6,379.0 L1160.0,379.7 L1164.3,381.9 L1165.2,382.4 L1168.7,382.7 L1170.3,382.9 L1173.0,381.6 L1176.9,379.9 L1177.4,379.6 L1181.7,376.9 L1186.0,374.2 L1187.0,373.7 L1190.4,371.6 L1194.7,369.0 L1197.0,367.7 L1199.1,366.7 L1203.4,364.7 L1207.0,363.1 L1207.7,362.9 L1212.1,361.6 L1216.4,360.6 L1218.7,360.1 L1220.8,359.9 L1225.1,359.6 L1229.4,359.6 L1230.4,359.6 L1233.8,360.0 L1238.1,360.6 L1242.5,361.5 L1243.8,361.9 L1246.8,362.9 L1251.1,364.6 L1255.5,366.4 L1257.2,367.2 L1259.8,368.3 L1264.2,370.2 L1268.5,372.2 L1268.9,372.4 L1272.9,375.2 L1275.5,377.2 L1277.2,378.3 L1281.5,381.3 L1282.2,381.8 L1285.9,382.3 L1288.9,382.6 L1290.2,382.5 L1294.6,382.1 L1298.9,381.7" stroke="#ff7442" stroke-width="7.8"/>
<path d="M191.9,683.1 L193.4,682.1 L196.3,679.9 L200.1,677.1 L200.6,676.6 L205.0,672.8 L206.7,671.2 L209.3,670.5 L210.9,670.1 L213.6,670.7 L218.0,671.6 L218.4,671.7 L222.3,672.1 L226.7,672.5 L230.1,672.9 L231.0,672.7 L234.3,671.7 L235.4,672.1 L238.5,673.4 L239.7,673.5 L244.0,674.0 L248.4,674.4 L250.2,674.6 L252.7,674.7 L257.1,675.0 L261.4,675.3 L263.6,675.4 L265.7,675.4 L270.1,675.4 L273.6,675.4 L274.4,675.3 L278.8,675.0 L283.1,674.6 L283.6,674.6 L287.4,674.2 L291.8,673.8 L292.0,673.7 L296.1,672.7 L300.3,671.7 L300.5,671.7 L304.8,670.8 L309.1,669.8 L310.4,669.6 L313.5,668.8 L317.0,667.9 L317.8,668.2 L322.2,669.8 L323.7,670.4 L326.5,672.7 L328.7,674.6 L330.9,676.5 L333.8,679.2 L335.2,679.7 L338.8,680.9 L339.5,681.0 L343.8,681.3 L343.9,681.2 L348.2,680.2 L352.1,679.2 L352.6,679.2 L356.9,678.5 L360.5,677.9 L361.2,677.8 L365.6,676.9 L368.9,676.2 L369.9,676.2 L374.3,675.9 L378.6,675.5 L380.6,675.4 L382.9,675.2 L387.3,674.9 L391.6,674.6 L392.3,674.6 L396.0,674.7 L400.3,674.9 L404.0,675.1 L404.7,675.2 L409.0,675.7 L413.3,676.2 L414.0,676.2 L417.7,677.6 L420.7,678.7 L422.0,679.0 L426.4,679.7 L430.7,680.4 L430.7,680.4 L435.0,681.3 L439.1,682.1 L439.4,681.9 L443.7,679.0 L444.1,678.7 L448.1,674.8 L450.8,672.1 L452.4,671.1 L455.8,669.1 L456.7,669.0 L461.1,668.5 L462.5,668.4 L465.4,669.0 L469.8,669.8 L470.8,670.1 L474.1,670.7 L478.4,671.4 L480.0,671.7 L482.8,672.4 L487.1,673.4 L488.4,673.7 L491.5,674.2 L495.8,674.9 L496.7,675.1 L500.2,675.1 L504.5,675.2 L508.8,675.3 L513.2,675.4 L513.4,675.4 L517.5,675.1 L521.9,674.9 L526.2,674.6 L526.8,674.6 L530.5,673.6 L534.9,672.5 L536.8,672.1 L539.2,671.6 L543.6,670.7 L546.9,670.1 L547.9,669.8 L552.2,668.7 L553.5,668.4 L556.6,668.7 L560.2,669.1 L560.9,669.5 L565.2,672.1 L565.3,672.1 L569.6,676.4 L570.3,677.1 L574.0,680.2 L575.3,681.3 L578.3,681.6 L580.3,681.8 L582.6,681.4 L587.0,680.7 L588.6,680.4 L591.3,679.8 L595.7,678.7 L597.0,678.4 L600.0,677.9 L604.3,677.2 L607.0,676.7 L608.7,676.6 L613.0,676.1 L617.0,675.7 L617.4,675.7 L621.7,675.7 L626.0,675.7 L630.4,675.7 L630.4,675.7 L634.7,675.6 L638.8,675.4 L639.1,675.4 L643.4,676.0 L647.7,676.6 L652.1,677.2 L653.8,677.4 L656.4,678.1 L660.8,679.2 L662.2,679.6 L665.1,679.9 L669.5,680.3 L670.5,680.4 L673.8,680.8 L677.2,681.3 L678.1,680.9 L682.2,679.6 L682.5,679.4 L686.8,675.8 L687.2,675.4 L691.2,670.7 L691.4,670.4 L695.5,668.8 L696.4,668.4 L699.8,668.6 L702.3,668.7 L704.2,669.0 L708.5,669.7 L710.6,670.1 L712.9,670.6 L717.2,671.6 L720.7,672.4 L721.5,672.5 L725.9,673.0 L730.2,673.6 L734.0,674.1 L734.6,674.1 L738.9,674.4 L743.3,674.6 L747.6,674.9 L750.8,675.1 L751.9,675.0 L756.3,674.5 L760.6,674.1 L764.1,673.7 L765.0,673.6 L769.3,672.9 L773.6,672.2 L778.0,671.5 L780.0,671.2 L782.3,670.9 L786.7,670.3 L788.4,670.1 L791.0,669.5 L795.0,668.7 L795.3,668.8 L799.7,669.8 L800.9,670.1 L804.0,673.4 L805.1,674.6 L808.4,677.9 L810.1,679.6 L812.7,680.6 L816.8,682.1 L817.0,682.1 L821.4,681.5 L823.5,681.3 L825.7,680.6 L830.1,679.3 L831.8,678.7 L834.4,678.4 L838.5,677.9 L838.8,677.8 L843.1,676.7 L846.9,675.7 L847.4,675.7 L851.8,675.3 L855.2,675.1 L856.1,674.9 L860.5,674.4 L864.8,673.8 L865.2,673.7 L869.1,674.3 L873.5,674.8 L875.3,675.1 L877.8,675.2 L882.2,675.5 L885.3,675.7 L886.5,676.1 L890.8,677.2 L893.6,677.9 L895.2,678.2 L899.5,678.9 L903.7,679.6 L903.9,679.6 L908.2,680.8 L912.0,681.8 L912.5,681.7 L916.9,681.0 L920.4,680.4 L921.2,679.4 L924.6,675.4 L925.6,674.2 L928.7,670.4 L929.9,669.9 L933.8,668.4 L934.3,668.4 L938.6,668.4 L940.4,668.4 L942.9,669.0 L947.3,670.0 L948.8,670.4 L951.6,671.0 L956.0,671.8 L957.2,672.1 L960.3,672.5 L964.6,673.1 L967.2,673.4 L969.0,673.5 L973.3,673.8 L977.2,674.1 L977.7,674.1 L982.0,674.3 L986.3,674.5 L988.9,674.6 L990.7,674.4 L995.0,674.1 L999.4,673.8 L1000.6,673.7 L1003.7,673.5 L1008.1,673.1 L1010.6,672.9 L1012.4,672.6 L1016.7,671.9 L1020.7,671.2 L1021.1,671.2 L1025.4,670.4 L1027.4,670.1 L1029.8,669.7 L1034.0,669.1 L1034.1,669.1 L1038.4,670.0 L1041.6,670.7 L1042.8,672.1 L1045.7,675.4 L1047.1,676.7 L1050.8,680.1 L1051.5,680.3 L1055.8,681.6 L1057.4,682.1 L1060.1,681.8 L1064.1,681.3 L1064.5,681.2 L1068.8,680.3 L1072.5,679.6 L1073.2,679.4 L1077.5,678.5 L1080.0,677.9 L1081.8,677.7 L1086.2,677.2 L1090.0,676.7 L1090.5,676.7 L1094.9,675.9 L1099.2,675.2 L1100.1,675.1 L1103.6,675.1 L1107.9,675.1 L1111.8,675.1 L1112.2,675.1 L1116.6,675.6 L1120.9,676.0 L1123.5,676.2 L1125.3,676.5 L1129.6,677.1 L1133.9,677.7 L1135.2,677.9 L1138.3,678.1 L1141.8,678.4 L1142.6,678.6 L1147.0,679.9 L1151.3,681.1 L1151.9,681.3 L1155.6,679.8 L1158.6,678.7 L1160.0,677.3 L1164.3,673.0 L1165.2,672.1 L1168.7,670.0 L1170.3,669.1 L1173.0,668.9 L1176.9,668.7 L1177.4,668.8 L1181.7,669.5 L1186.0,670.2 L1187.0,670.4 L1190.4,671.1 L1194.7,671.9 L1197.0,672.4 L1199.1,672.7 L1203.4,673.5 L1207.0,674.1 L1207.7,674.1 L1212.1,674.5 L1216.4,674.9 L1218.7,675.1 L1220.8,675.1 L1225.1,675.3 L1229.4,675.4 L1230.4,675.4 L1233.8,675.3 L1238.1,675.2 L1242.5,675.1 L1243.8,675.1 L1246.8,674.8 L1251.1,674.3 L1255.5,673.9 L1257.2,673.7 L1259.8,673.7 L1264.2,673.5 L1268.5,673.4 L1268.9,673.4 L1272.9,672.4 L1275.5,671.7 L1277.2,671.4 L1281.5,670.5 L1282.2,670.4 L1285.9,671.8 L1288.9,672.9 L1290.2,673.7 L1294.6,676.2 L1298.9,678.7" stroke="#ff7442" stroke-width="7.8"/>
<path d="M191.9,441.9 L196.3,439.8 L200.6,437.7 L205.0,435.5 L209.3,433.4 L213.6,431.2 L218.0,429.1 L222.3,427.0 L226.7,425.0 L231.0,423.2 L235.4,421.5 L239.7,420.0 L244.0,418.6 L248.4,417.4 L252.7,416.5 L257.1,415.8 L261.4,415.3 L265.7,415.1 L270.1,415.1 L274.4,415.4 L278.8,415.9 L283.1,416.7 L287.4,417.7 L291.8,418.9 L296.1,420.2 L300.5,421.8 L304.8,423.6 L309.1,425.4 L313.5,427.4 L317.8,429.5 L322.2,431.6 L326.5,460.6 L330.9,436.0 L335.2,438.1 L339.5,440.2 L343.9,442.3 L348.2,444.2 L352.6,446.0 L356.9,447.6 L361.2,449.1 L365.6,450.4 L369.9,451.4 L374.3,452.3 L378.6,452.9 L382.9,453.3 L387.3,453.4 L391.6,453.3 L396.0,452.9 L400.3,452.3 L404.7,451.4 L409.0,450.4 L413.3,449.1 L417.7,447.6 L422.0,446.0 L426.4,444.2 L430.7,442.3 L435.0,440.2 L439.4,438.1 L443.7,436.0 L448.1,433.8 L452.4,431.6 L456.7,429.5 L461.1,427.4 L465.4,425.4 L469.8,423.6 L474.1,421.8 L478.4,420.2 L482.8,418.9 L487.1,417.7 L491.5,416.7 L495.8,415.9 L500.2,415.4 L504.5,415.1 L508.8,415.1 L513.2,415.3 L517.5,415.8 L521.9,416.5 L526.2,417.4 L530.5,418.6 L534.9,420.0 L539.2,421.5 L543.6,423.2 L547.9,425.0 L552.2,427.0 L556.6,429.1 L560.9,431.2 L565.3,433.4 L569.6,435.5 L574.0,437.7 L578.3,439.8 L582.6,441.9 L587.0,443.8 L591.3,445.6 L595.7,447.3 L600.0,448.8 L604.3,450.1 L608.7,451.2 L613.0,452.1 L617.4,452.8 L621.7,453.2 L626.0,453.4 L630.4,453.3 L634.7,453.0 L639.1,452.4 L643.4,451.6 L647.7,450.6 L652.1,449.4 L656.4,447.9 L660.8,446.3 L665.1,444.6 L669.5,442.7 L673.8,440.6 L678.1,438.6 L682.5,436.4 L686.8,434.2 L691.2,432.1 L695.5,429.9 L699.8,427.8 L704.2,477.6 L708.5,423.9 L712.9,422.2 L717.2,420.5 L721.5,419.1 L725.9,417.9 L730.2,416.9 L734.6,416.1 L738.9,415.5 L743.3,415.2 L747.6,415.1 L751.9,415.3 L756.3,415.7 L760.6,416.3 L765.0,417.2 L769.3,418.3 L773.6,419.7 L778.0,421.2 L782.3,422.8 L786.7,424.7 L791.0,426.6 L795.3,428.7 L799.7,430.8 L804.0,432.9 L808.4,435.1 L812.7,437.3 L817.0,439.4 L821.4,441.5 L825.7,443.4 L830.1,445.3 L834.4,447.0 L838.8,448.5 L843.1,449.9 L847.4,451.0 L851.8,452.0 L856.1,452.7 L860.5,453.1 L864.8,453.4 L869.1,453.3 L873.5,453.1 L877.8,452.6 L882.2,451.8 L886.5,450.8 L890.8,449.6 L895.2,448.2 L899.5,446.7 L903.9,444.9 L908.2,443.0 L912.5,441.1 L916.9,439.0 L921.2,436.8 L925.6,434.7 L929.9,432.5 L934.3,430.3 L938.6,428.2 L942.9,426.2 L947.3,424.3 L951.6,422.5 L956.0,420.9 L960.3,419.4 L964.6,418.1 L969.0,417.0 L973.3,416.2 L977.7,415.6 L982.0,415.2 L986.3,415.1 L990.7,415.2 L995.0,415.6 L999.4,416.2 L1003.7,417.0 L1008.1,418.1 L1012.4,419.4 L1016.7,420.9 L1021.1,422.5 L1025.4,424.3 L1029.8,426.2 L1034.1,428.2 L1038.4,430.3 L1042.8,432.5 L1047.1,434.7 L1051.5,436.8 L1055.8,439.0 L1060.1,441.1 L1064.5,443.0 L1068.8,444.9 L1073.2,446.7 L1077.5,448.2 L1081.8,449.6 L1086.2,450.8 L1090.5,451.8 L1094.9,452.6 L1099.2,453.1 L1103.6,453.3 L1107.9,453.4 L1112.2,453.1 L1116.6,452.7 L1120.9,452.0 L1125.3,451.0 L1129.6,449.9 L1133.9,448.5 L1138.3,447.0 L1142.6,445.3 L1147.0,443.4 L1151.3,441.5 L1155.6,439.4 L1160.0,437.3 L1164.3,435.1 L1168.7,432.9 L1173.0,430.8 L1177.4,428.7 L1181.7,426.6 L1186.0,424.7 L1190.4,422.8 L1194.7,421.2 L1199.1,419.7 L1203.4,418.3 L1207.7,417.2 L1212.1,416.3 L1216.4,415.7 L1220.8,415.3 L1225.1,415.1 L1229.4,415.2 L1233.8,415.5 L1238.1,416.1 L1242.5,416.9 L1246.8,417.9 L1251.1,419.1 L1255.5,420.5 L1259.8,422.2 L1264.2,423.9 L1268.5,425.8 L1272.9,427.8 L1277.2,429.9 L1281.5,432.1 L1285.9,434.2 L1290.2,436.4 L1294.6,438.6 L1298.9,440.6" stroke="#00d0d2" stroke-width="7.9"/>
<path d="M191.9,707.8 L196.3,707.8 L200.6,707.8 L205.0,707.8 L209.3,707.8 L213.6,707.8 L218.0,707.8 L222.3,707.8 L226.7,707.8 L231.0,707.8 L235.4,707.8 L239.7,707.8 L244.0,707.8 L248.4,707.8 L252.7,707.8 L257.1,707.8 L261.4,707.8 L265.7,707.8 L270.1,707.8 L274.4,707.8 L278.8,707.8 L283.1,707.8 L287.4,707.8 L291.8,707.8 L296.1,707.8 L300.5,707.8 L304.8,707.8 L309.1,707.8 L313.5,707.8 L317.8,707.8 L322.2,707.8 L326.5,681.0 L330.9,707.8 L335.2,707.8 L339.5,707.8 L343.9,707.8 L348.2,707.8 L352.6,707.8 L356.9,707.8 L361.2,707.8 L365.6,707.8 L369.9,707.8 L374.3,707.8 L378.6,707.8 L382.9,707.8 L387.3,707.8 L391.6,707.8 L396.0,707.8 L400.3,707.8 L404.7,707.8 L409.0,707.8 L413.3,707.8 L417.7,707.8 L422.0,707.8 L426.4,707.8 L430.7,707.8 L435.0,707.8 L439.4,707.8 L443.7,707.8 L448.1,707.8 L452.4,707.8 L456.7,707.8 L461.1,707.8 L465.4,707.8 L469.8,707.8 L474.1,707.8 L478.4,707.8 L482.8,707.8 L487.1,707.8 L491.5,707.8 L495.8,707.8 L500.2,707.8 L504.5,707.8 L508.8,707.8 L513.2,707.8 L517.5,707.8 L521.9,707.8 L526.2,707.8 L530.5,707.8 L534.9,707.8 L539.2,707.8 L543.6,707.8 L547.9,707.8 L552.2,707.8 L556.6,707.8 L560.9,707.8 L565.3,707.8 L569.6,707.8 L574.0,707.8 L578.3,707.8 L582.6,707.8 L587.0,707.8 L591.3,707.8 L595.7,707.8 L600.0,707.8 L604.3,707.8 L608.7,707.8 L613.0,707.8 L617.4,707.8 L621.7,707.8 L626.0,707.8 L630.4,707.8 L634.7,707.8 L639.1,707.8 L643.4,707.8 L647.7,707.8 L652.1,707.8 L656.4,707.8 L660.8,707.8 L665.1,707.8 L669.5,707.8 L673.8,707.8 L678.1,707.8 L682.5,707.8 L686.8,707.8 L691.2,707.8 L695.5,707.8 L699.8,707.8 L704.2,656.1 L708.5,707.8 L712.9,707.8 L717.2,707.8 L721.5,707.8 L725.9,707.8 L730.2,707.8 L734.6,707.8 L738.9,707.8 L743.3,707.8 L747.6,707.8 L751.9,707.8 L756.3,707.8 L760.6,707.8 L765.0,707.8 L769.3,707.8 L773.6,707.8 L778.0,707.8 L782.3,707.8 L786.7,707.8 L791.0,707.8 L795.3,707.8 L799.7,707.8 L804.0,707.8 L808.4,707.8 L812.7,707.8 L817.0,707.8 L821.4,707.8 L825.7,707.8 L830.1,707.8 L834.4,707.8 L838.8,707.8 L843.1,707.8 L847.4,707.8 L851.8,707.8 L856.1,707.8 L860.5,707.8 L864.8,707.8 L869.1,707.8 L873.5,707.8 L877.8,707.8 L882.2,707.8 L886.5,707.8 L890.8,707.8 L895.2,707.8 L899.5,707.8 L903.9,707.8 L908.2,707.8 L912.5,707.8 L916.9,707.8 L921.2,707.8 L925.6,707.8 L929.9,707.8 L934.3,707.8 L938.6,707.8 L942.9,707.8 L947.3,707.8 L951.6,707.8 L956.0,707.8 L960.3,707.8 L964.6,707.8 L969.0,707.8 L973.3,707.8 L977.7,707.8 L982.0,707.8 L986.3,707.8 L990.7,707.8 L995.0,707.8 L999.4,707.8 L1003.7,707.8 L1008.1,707.8 L1012.4,707.8 L1016.7,707.8 L1021.1,707.8 L1025.4,707.8 L1029.8,707.8 L1034.1,707.8 L1038.4,707.8 L1042.8,707.8 L1047.1,707.8 L1051.5,707.8 L1055.8,707.8 L1060.1,707.8 L1064.5,707.8 L1068.8,707.8 L1073.2,707.8 L1077.5,707.8 L1081.8,707.8 L1086.2,707.8 L1090.5,707.8 L1094.9,707.8 L1099.2,707.8 L1103.6,707.8 L1107.9,707.8 L1112.2,707.8 L1116.6,707.8 L1120.9,707.8 L1125.3,707.8 L1129.6,707.8 L1133.9,707.8 L1138.3,707.8 L1142.6,707.8 L1147.0,707.8 L1151.3,707.8 L1155.6,707.8 L1160.0,707.8 L1164.3,707.8 L1168.7,707.8 L1173.0,707.8 L1177.4,707.8 L1181.7,707.8 L1186.0,707.8 L1190.4,707.8 L1194.7,707.8 L1199.1,707.8 L1203.4,707.8 L1207.7,707.8 L1212.1,707.8 L1216.4,707.8 L1220.8,707.8 L1225.1,707.8 L1229.4,707.8 L1233.8,707.8 L1238.1,707.8 L1242.5,707.8 L1246.8,707.8 L1251.1,707.8 L1255.5,707.8 L1259.8,707.8 L1264.2,707.8 L1268.5,707.8 L1272.9,707.8 L1277.2,707.8 L1281.5,707.8 L1285.9,707.8 L1290.2,707.8 L1294.6,707.8 L1298.9,707.8" stroke="#00d0d2" stroke-width="7.9"/>
</g>
<g fill="#222222" font-size="75.2">
<text transform="translate(163.6,75.6) scale(0.96,1)" text-anchor="end">4</text>
<text transform="translate(163.6,294.9) scale(0.96,1)" text-anchor="end">2</text>
<text transform="translate(163.6,513.6) scale(0.96,1)" text-anchor="end">0</text>
<g><text transform="translate(87.4,751.8) scale(1,1.44)">−</text><text transform="translate(163.6,732.8) scale(0.96,1)" text-anchor="end">2</text></g>
<text transform="translate(186.0,851.4) scale(0.96,1)" text-anchor="middle">0</text>
<text transform="translate(621.5,851.4) scale(0.96,1)" text-anchor="middle">100</text>
<text transform="translate(1055.5,851.4) scale(0.96,1)" text-anchor="middle">200</text>
<text transform="translate(741.9,941.8) scale(1.015,1)" text-anchor="middle" font-size="77.4">Y(pixel)</text>
<g transform="translate(77.4,605.2) rotate(-90)" font-size="77.4"><text transform="scale(1.015,1)" x="-1" y="0">Height</text><text transform="translate(230.6,0) scale(1.08,1)" x="-4" y="0">(</text><text transform="translate(260.2,0) scale(1.24,0.96)" x="-2" y="0" font-style="italic" font-weight="normal" stroke="#222222" stroke-width="1.1" stroke-linejoin="round">μ</text><text transform="translate(309.2,0) scale(0.985,1)" x="-1" y="0">m</text><text transform="translate(376.0,0) scale(1.12,1)" x="-4" y="0">)</text></g>
</g>
<g font-size="53" fill="#000000">
<line x1="1339" y1="92.1" x2="1446.2" y2="92.1" stroke="#0000ff" stroke-width="8" stroke-dasharray="32 33.5"/>
<text transform="translate(1452.4,111.9) scale(1.0145,1)">Ground-truth</text>
<line x1="1339" y1="155.0" x2="1446.2" y2="155.0" stroke="#ff80ee" stroke-width="8"/>
<text transform="translate(1452.4,174.7) scale(1.0145,1)">Centroid</text>
<line x1="1339" y1="217.8" x2="1446.2" y2="217.8" stroke="#ff80ee" stroke-width="8"/>
<text transform="translate(1454.0,237.6) scale(1.0075,1)">Diff-centroid</text>
<line x1="1339" y1="280.7" x2="1446.2" y2="280.7" stroke="#b92e54" stroke-width="8"/>
<text transform="translate(1454.0,300.4) scale(1.009,1)">Hilbert</text>
<line x1="1339" y1="343.6" x2="1446.2" y2="343.6" stroke="#b92e54" stroke-width="8"/>
<text transform="translate(1454.0,363.3) scale(1.009,1)">Diff-Hilbert</text>
<line x1="1339" y1="406.4" x2="1446.2" y2="406.4" stroke="#953c20" stroke-width="8"/>
<text transform="translate(1454.0,426.1) scale(1.013,1)">Fourier</text>
<line x1="1339" y1="469.3" x2="1446.2" y2="469.3" stroke="#953c20" stroke-width="8"/>
<text transform="translate(1454.0,488.9) scale(1.011,1)">Diff-Fourier</text>
<line x1="1339" y1="532.2" x2="1446.2" y2="532.2" stroke="#ff7442" stroke-width="8"/>
<text transform="translate(1454.0,551.8) scale(0.985,1)">FDA</text>
<line x1="1339" y1="595.1" x2="1446.2" y2="595.1" stroke="#ff7442" stroke-width="8"/>
<text transform="translate(1454.0,614.6) scale(1.0,1)">Diff-FDA</text>
<line x1="1339" y1="657.9" x2="1446.2" y2="657.9" stroke="#00d0d2" stroke-width="8"/>
<text transform="translate(1454.0,677.5) scale(1.0,1)">DNN</text>
<line x1="1339" y1="720.8" x2="1446.2" y2="720.8" stroke="#00d0d2" stroke-width="8"/>
<text transform="translate(1454.0,740.3) scale(1.0,1)">Diff-DNN</text>
</g>
</svg></body></html>
